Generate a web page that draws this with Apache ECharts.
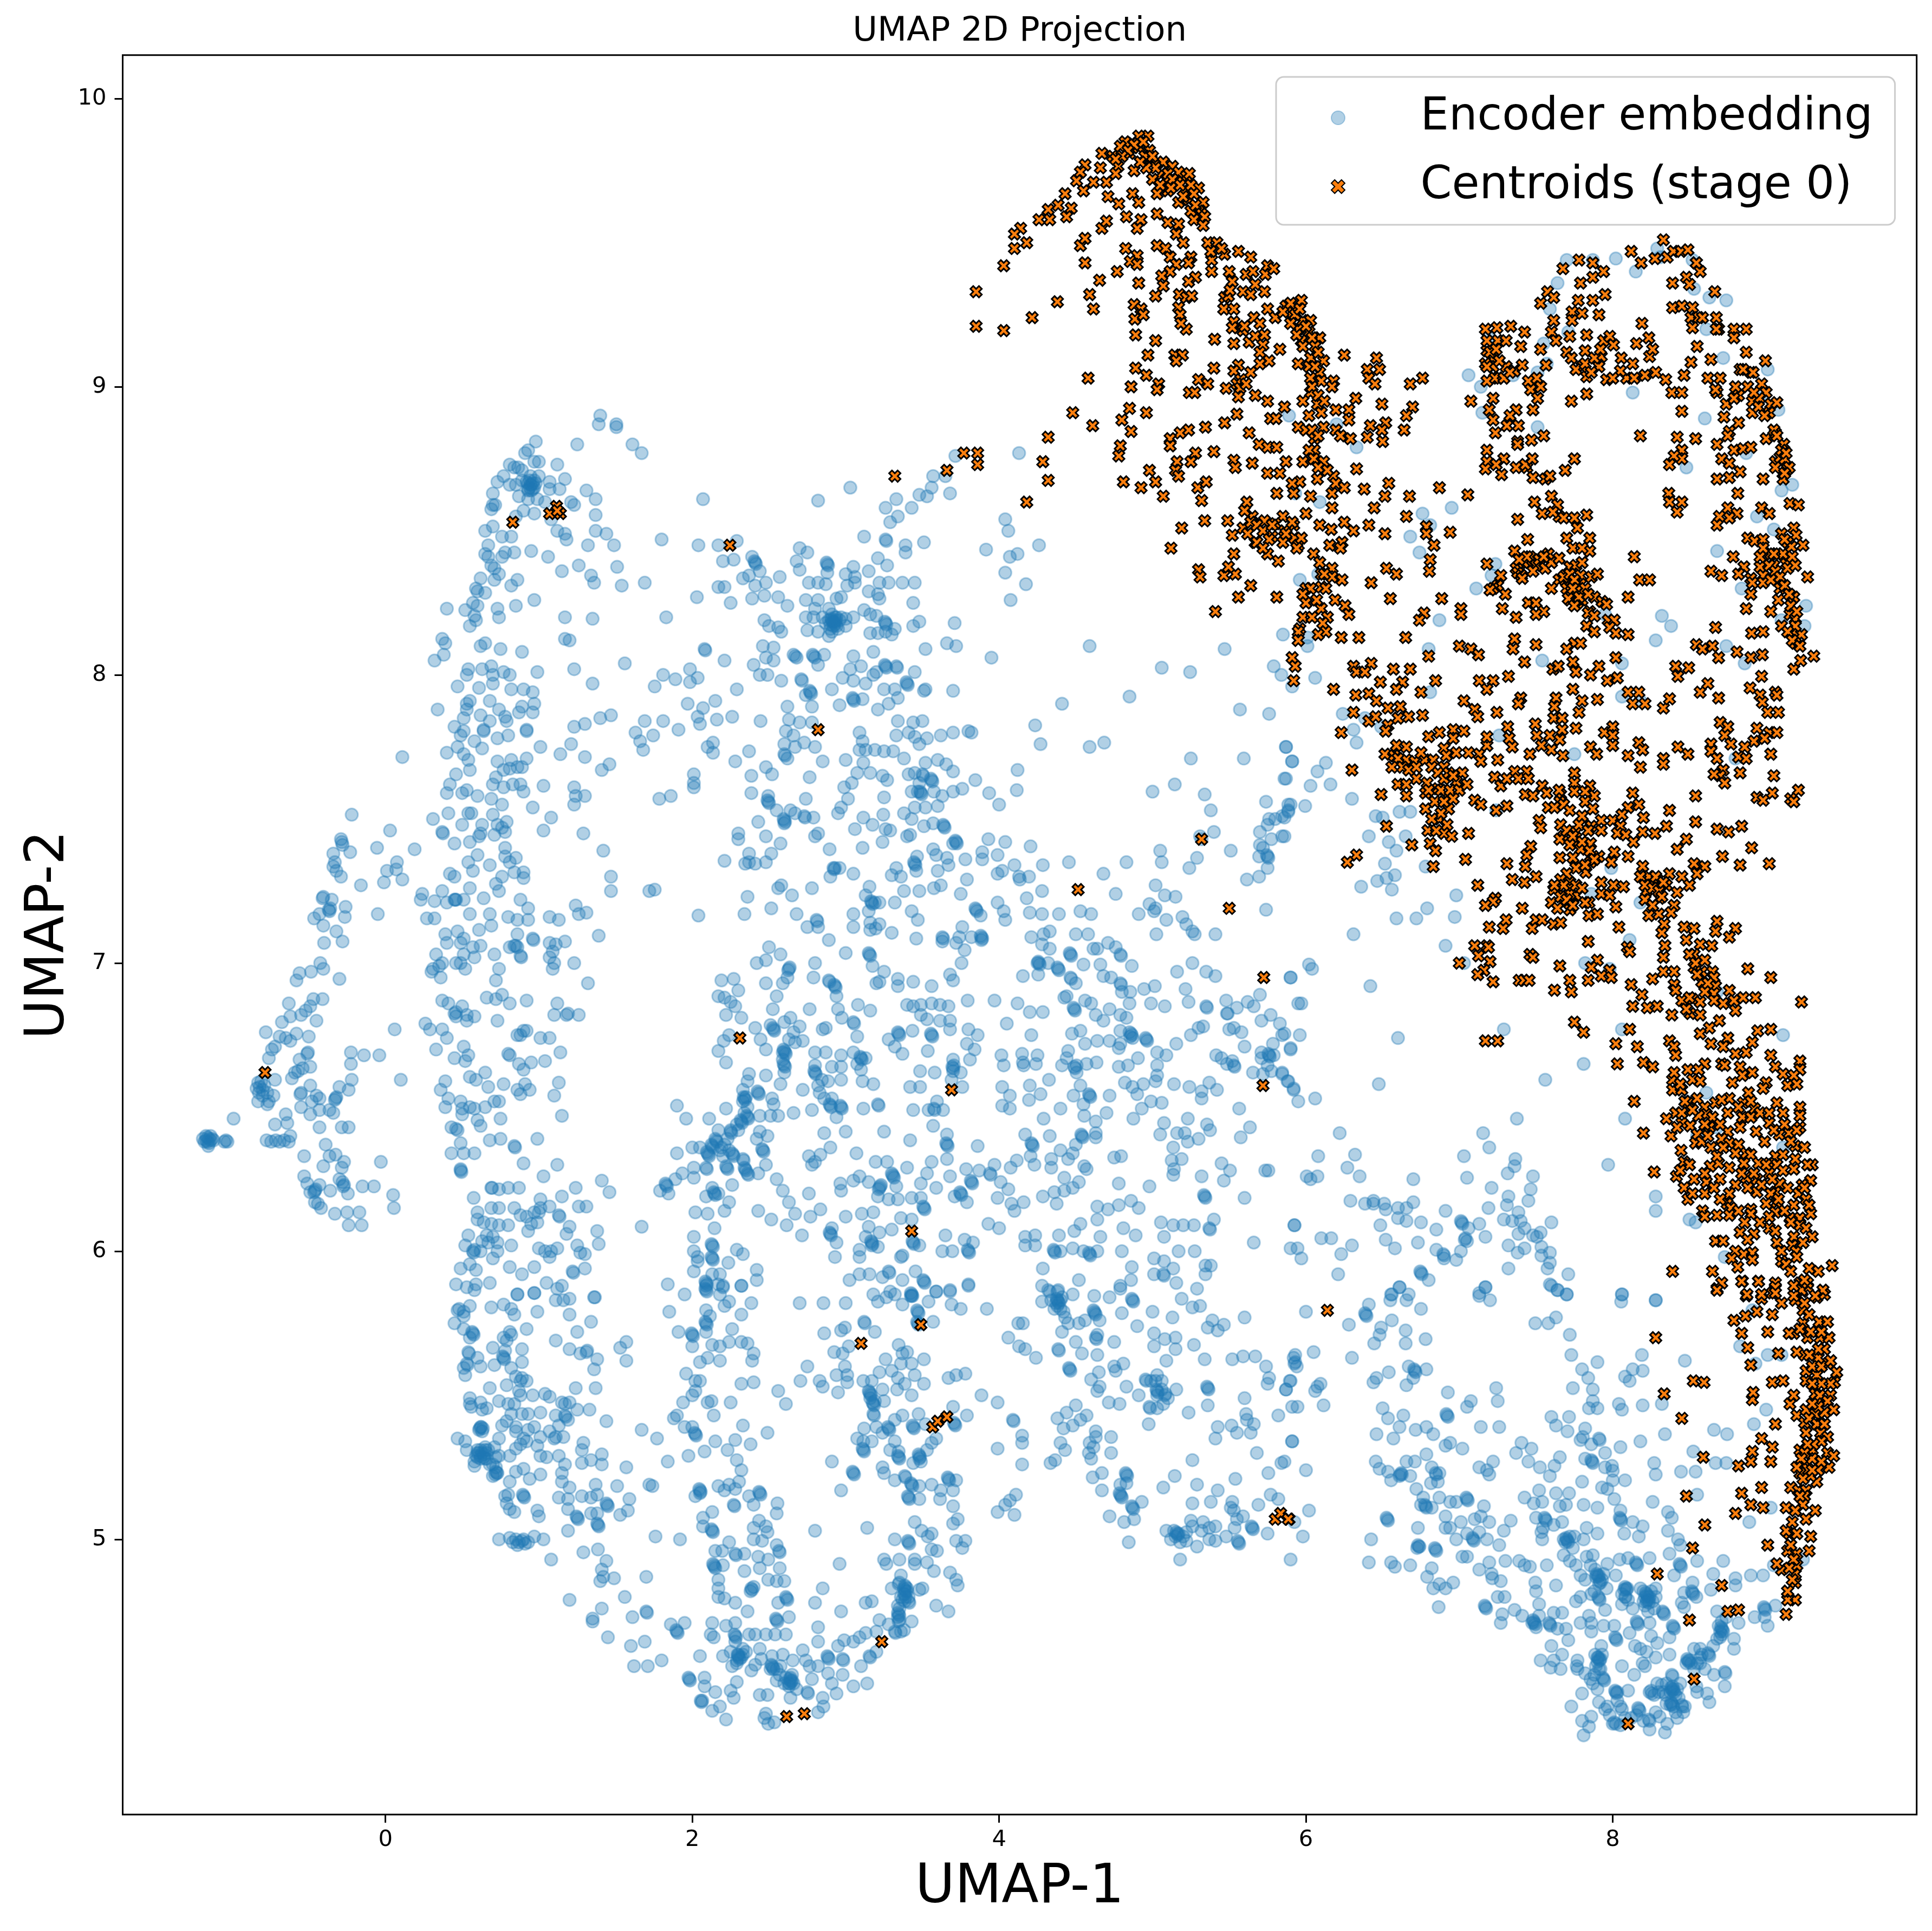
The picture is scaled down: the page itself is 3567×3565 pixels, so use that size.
<!DOCTYPE html>
<html><head><meta charset="utf-8"><style>html,body{margin:0;padding:0;background:#fff}#c{width:3567px;height:3565px}</style>
<script src="https://cdn.jsdelivr.net/npm/echarts@6/dist/echarts.min.js"></script></head><body><div id="c"></div><script>
const xTicks=[0,2,4,6,8];
const yTicks=[5,6,7,8,9,10];
const blueArmTop=[1.40,8.90,1.39,8.87,1.505,8.87,1.505,8.86,1.61,8.80,1.67,8.77,1.25,8.80,.98,8.81,.93,8.78,.91,8.77,.81,8.73,.84,8.72,.865,8.72,.97,8.74,1.0,8.74,1.12,8.73,.77,8.69,.73,8.67,.89,8.71,.945,8.69,.97,8.675,1.0,8.69,.945,8.66,.96,8.645,.89,8.675,.85,8.66,.81,8.66,1.07,8.67,1.17,8.68,1.135,8.645,1.07,8.645,1.31,8.64,1.37,8.61,1.21,8.60,1.23,8.59,.93,8.645,.93,8.61,.99,8.61,.87,8.62,1.04,8.60,.70,8.63,.70,8.59,.715,8.59,.69,8.575,.90,8.57,.97,8.56,1.08,8.54,.85,8.55,.70,8.515,.65,8.50,1.12,8.50,1.17,8.49,1.37,8.555,1.37,8.50,1.44,8.49,1.49,8.45,1.32,8.45,1.18,8.47,.76,8.48,.82,8.48,.67,8.45,.95,8.43,.84,8.425,.78,8.425,.65,8.42,.67,8.41,.76,8.41,1.06,8.41,.69,8.38,1.26,8.38,1.51,8.375,1.15,8.36,.71,8.37,.74,8.35,1.34,8.345,1.36,8.32,1.54,8.31,1.69,8.32,.62,8.335,.71,8.33,.86,8.33,.82,8.31,.59,8.30,.60,8.29,.65,8.285,.97,8.26,.57,8.25,.60,8.24,.40,8.23,.52,8.225,.85,8.24,.73,8.23,.58,8.205,.59,8.19,.55,8.17,.74,8.20,1.17,8.20,1.35,8.195,.37,8.125,.39,8.11,1.17,8.125,1.20,8.12,.62,8.10,.65,8.11,.75,8.09,.89,8.08,.32,8.05,.38,8.07,.54,8.02,.53,8.0,.63,8.02,.69,8.03,.70,8.0,.77,8.01,.81,8.0,.99,8.01,1.23,8.02,1.35,7.97,1.56,8.04,.47,7.96,.61,7.955,.70,7.97,.82,7.95,.90,7.95,.96,7.94];
const blueArmMid=[.34,7.88,.53,7.90,.55,7.91,.53,7.88,.68,7.91,.74,7.88,.89,7.89,.87,7.87,.97,7.90,.96,7.87,.62,7.86,.51,7.85,.78,7.855,.79,7.84,.68,7.84,.64,7.81,.64,7.805,.92,7.81,.92,7.805,.45,7.82,.51,7.805,.49,7.79,.80,7.79,.73,7.78,.58,7.77,.47,7.75,.63,7.745,1.01,7.75,1.21,7.76,1.23,7.82,1.30,7.83,1.40,7.85,1.47,7.86,1.14,7.725,1.30,7.715,.40,7.73,.51,7.725,.54,7.705,.11,7.715,1.63,7.80,1.66,7.77,1.68,7.74,1.69,7.84,.73,7.70,.82,7.705,.92,7.71,.77,7.67,.81,7.675,.86,7.68,.72,7.645,.89,7.68,.70,7.62,.77,7.61,.83,7.62,.88,7.62,.90,7.595,.55,7.67,.46,7.655,.42,7.62,.53,7.60,.40,7.59,.60,7.58,.50,7.59,1.03,7.615,1.23,7.61,1.24,7.58,1.30,7.58,1.23,7.55,1.41,7.67,1.46,7.69,.96,7.54,.69,7.57,.76,7.55,.54,7.52,.56,7.52,.41,7.52,.31,7.50,.70,7.515,1.08,7.505,.50,7.48,.63,7.48,.73,7.48,.76,7.47,.79,7.49,.37,7.455,.375,7.45,1.03,7.46,1.29,7.45,.62,7.45,.61,7.44,.71,7.445,.78,7.455,.45,7.415,.55,7.42,.78,7.40,.78,7.37,.60,7.375,.85,7.365,1.42,7.39,.54,7.35,.68,7.34,.81,7.35,.84,7.315,.90,7.315,.90,7.295,.57,7.32,.42,7.31,.45,7.30,.76,7.30,.72,7.275,.74,7.25,1.47,7.30,1.47,7.25,1.72,7.25,.55,7.26,.37,7.25,.24,7.24,.23,7.22,.32,7.215,.40,7.21,.45,7.22,.455,7.22,.46,7.22,.51,7.22,.64,7.225,.88,7.22,.55,7.17,.68,7.17,.69,7.13,.93,7.19,.80,7.16,.86,7.15,.93,7.15,1.07,7.16,1.13,7.15,1.24,7.20,1.26,7.17,1.31,7.175,1.39,7.095,.27,7.155,.32,7.155,.61,7.115,.39,7.10,.47,7.11,.51,7.085,.86,7.10,.96,7.085,.965,7.08,.40,7.07,.49,7.07,.57,7.055,.62,7.06,.81,7.055,.84,7.06,.85,7.06,.86,7.055,.88,7.025,.885,7.02,1.07,7.07,1.11,7.065,1.17,7.075,1.09,7.04,1.07,7.02,1.10,7.0,1.09,6.98,1.23,7.0,.33,7.03,.37,7.0,.51,7.03,.58,7.02,.46,7.0,.49,7.0,.71,7.03,.74,6.98,.31,6.98,.30,6.97,.35,6.99,.36,6.95,.52,6.98,.72,6.94,1.32,6.93];
const blueArmLow=[.37,6.87,.41,6.86,.46,6.83,.50,6.85,.66,6.88,.72,6.875,.76,6.89,.81,6.86,.92,6.87,1.12,6.86,1.10,6.82,1.18,6.82,1.19,6.825,1.26,6.82,.45,6.825,.46,6.815,.53,6.82,.58,6.815,.53,6.80,.73,6.80,.26,6.79,.29,6.77,.37,6.77,.40,6.74,.06,6.77,.90,6.765,.92,6.765,.88,6.75,.86,6.75,1.01,6.74,1.07,6.74,.33,6.70,.51,6.71,1.14,6.69,.80,6.685,.81,6.68,.45,6.67,.54,6.68,.52,6.66,.87,6.65,.95,6.655,1.04,6.66,.90,6.63,.65,6.62,.55,6.605,.59,6.595,.39,6.59,1.13,6.585,.77,6.58,.67,6.57,.36,6.56,.86,6.56,.91,6.58,.88,6.545,.94,6.56,1.10,6.54,.41,6.53,.39,6.50,.49,6.52,.55,6.50,.50,6.495,.58,6.495,.50,6.475,.60,6.455,.62,6.435,.65,6.50,.71,6.52,.74,6.52,.75,6.46,1.15,6.47,.43,6.43,.47,6.42,.46,6.425,.68,6.385,.75,6.39,.84,6.365,.845,6.36,.99,6.39,.49,6.375,.43,6.34,.51,6.34,.58,6.34,.90,6.305,1.12,6.30,.49,6.28,.495,6.275,.49,6.285,1.03,6.26,1.41,6.245,1.46,6.205,.69,6.22,.695,6.22,.74,6.215,.80,6.22,.87,6.22,1.01,6.18,1.15,6.19,1.24,6.22,.575,6.185,.60,6.135,.60,6.11,.69,6.15,.74,6.15,.84,6.15,1.07,6.155,1.01,6.15,1.13,6.125,1.135,6.12,1.26,6.155,1.31,6.155,.88,6.125,.92,6.12,.97,6.135,1.0,6.135,.95,6.095,.99,6.10,.93,6.07,.64,6.10,.69,6.095,.74,6.09,.80,6.09,1.20,6.085,1.18,6.06,1.38,6.07,1.39,6.025,1.67,6.085,.54,6.055,.66,6.055,.70,6.05,.67,6.03,.63,6.035,.73,6.03,.82,6.02,.52,6.02,.57,6.0,.575,5.995,.58,6.005,.62,6.0,.70,5.975,.73,6.0,1.0,6.01,1.04,6.0,1.08,6.0,1.12,6.01,1.07,5.98,1.25,6.02,1.30,5.99,1.27,5.995,.55,5.955,.49,5.94,.59,5.935,.81,5.945,.89,5.92,.97,5.945,1.22,5.93,1.225,5.925,1.30,5.94,.46,5.885,.53,5.875,.59,5.885,.58,5.865,.68,5.89,.86,5.85,.97,5.855,1.05,5.89,1.15,5.88,1.12,5.87,1.36,5.84];
const blueFarLeft=[-.22,7.515,.03,7.46,-.285,7.42,-.29,7.43,-.28,7.41,-.055,7.40,.19,7.395,-.23,7.385,-.34,7.38,.075,7.35,-.33,7.35,-.34,7.335,-.32,7.32,-.29,7.30,.01,7.32,.07,7.325,.11,7.29,-.01,7.28,-.16,7.27,-.405,7.23,-.41,7.225,-.35,7.22,-.26,7.195,-.365,7.18,-.37,7.185,-.36,7.19,-.43,7.17,-.465,7.155,-.405,7.13,-.265,7.16,-.05,7.17,-.32,7.11,-.40,7.07,-.28,7.075,-.425,7.0,-.405,6.98,-.485,6.97,-.56,6.965,-.58,6.94,-.30,6.945,-.41,6.875,-.47,6.875,-.49,6.85,-.52,6.835,-.55,6.82,-.63,6.86,-.62,6.815,-.45,6.80,-.675,6.795,-.78,6.76,-.58,6.755,-.50,6.745,-.69,6.745,-.62,6.73,-.65,6.74,-.72,6.71,-.74,6.70,-.505,6.69,-.51,6.685,-.76,6.67,-.56,6.665,-.49,6.64,-.57,6.625,-.54,6.635,-.59,6.62,-.61,6.60,-.72,6.595,-.225,6.69,-.14,6.68,-.04,6.68,-.225,6.65,-.22,6.595,.10,6.595,-.49,6.575,-.30,6.57,-.24,6.56,-.55,6.55,-.555,6.545,-.45,6.54,-.43,6.53,-.48,6.52,-.325,6.53,-.33,6.525,-.32,6.535,-.55,6.50,-.43,6.49,-.365,6.49,-.34,6.48,-.49,6.475,-.65,6.475,-.64,6.445,-.72,6.44,-.43,6.43,-.285,6.43,-.24,6.43,-.99,6.46,-.83,6.585,-.82,6.57,-.81,6.59,-.80,6.56,-.84,6.565,-.79,6.575,-.825,6.55,-.80,6.54,-.83,6.52,-.76,6.52,-.73,6.54,-.77,6.55,-.77,6.51,-1.19,6.39,-1.17,6.40,-1.15,6.39,-1.16,6.38,-1.14,6.385,-1.18,6.38,-1.15,6.375,-1.13,6.39,-1.17,6.385,-1.14,6.40,-1.16,6.395,-1.12,6.385,-1.05,6.38,-1.03,6.38,-1.04,6.385,-1.155,6.365,-.775,6.385,-.745,6.38,-.715,6.385,-.69,6.38,-.66,6.385,-.63,6.38,-.62,6.40,-.39,6.37,-.53,6.33,-.365,6.33,-.325,6.335,-.27,6.31,-.285,6.29,-.03,6.31,-.405,6.295,-.53,6.26,-.51,6.235,-.30,6.25,-.27,6.23,-.28,6.24,-.275,6.225,-.43,6.23,-.46,6.21,-.465,6.205,-.455,6.215,-.49,6.205,-.36,6.21,-.245,6.20,-.15,6.225,-.075,6.225,.05,6.195,.055,6.15,-.46,6.17,-.44,6.165,-.42,6.15,-.33,6.13,-.25,6.135,-.17,6.135,-.24,6.09,-.155,6.09];
const blueArmBottom=[.69,5.805,.77,5.815,.82,5.80,.84,5.78,.99,5.79,1.20,5.78,1.11,5.83,1.16,5.83,1.20,5.835,1.365,5.84,.86,5.85,.97,5.855,.47,5.795,.51,5.79,.55,5.81,.48,5.80,.51,5.775,.45,5.75,.51,5.73,.57,5.715,.575,5.71,.565,5.72,.55,5.70,.92,5.73,.81,5.72,.77,5.70,.82,5.71,.79,5.69,1.25,5.72,1.34,5.755,1.11,5.69,.70,5.665,.89,5.66,.54,5.65,.545,5.645,.78,5.655,1.20,5.66,1.27,5.645,1.31,5.65,1.315,5.655,1.53,5.665,1.57,5.685,1.57,5.62,1.38,5.625,.60,5.63,.53,5.61,.535,5.605,.51,5.595,.62,5.60,.71,5.605,.77,5.63,.775,5.625,.765,5.635,.89,5.615,.82,5.595,1.36,5.59,.52,5.57,.85,5.565,.89,5.56,.92,5.55,.88,5.55,.68,5.525,.79,5.535,1.24,5.525,1.37,5.525,.87,5.515,.88,5.50,.96,5.50,1.04,5.505,1.07,5.495,.55,5.49,.55,5.47,.62,5.475,.56,5.46,.63,5.45,.66,5.455,.74,5.48,.80,5.47,.84,5.47,.82,5.435,1.15,5.475,1.20,5.475,1.17,5.47,1.01,5.44,1.25,5.45,1.33,5.45,.89,5.435,.93,5.435,1.11,5.43,1.17,5.43,1.175,5.425,.79,5.41,.76,5.395,1.44,5.41,.85,5.39,.85,5.375,.97,5.39,.93,5.38,1.13,5.395,1.19,5.415,.62,5.39,.61,5.38,.63,5.375,.625,5.39,.615,5.385,.635,5.385,1.67,5.38,1.07,5.375,1.11,5.355,1.16,5.355,1.10,5.35,.74,5.35,1.01,5.355,.90,5.35,.92,5.34,.88,5.33,.47,5.35,.52,5.34,1.29,5.335,.53,5.31,.99,5.325,.85,5.315,.71,5.32,.65,5.32,.62,5.31,.60,5.30,.64,5.295,.66,5.30,.62,5.28,.60,5.285,.65,5.28,.67,5.31,.58,5.27,.58,5.255,.68,5.26,.72,5.285,.74,5.29,.81,5.29,1.01,5.29,1.05,5.285,1.13,5.29,1.28,5.31,1.17,5.26,1.28,5.265,1.34,5.275,1.41,5.295,1.41,5.26,1.57,5.25,.72,5.235,.725,5.23,.715,5.225,.73,5.23,.70,5.22,.85,5.235,.90,5.245,1.01,5.225,.94,5.21,1.15,5.23,1.15,5.20,.81,5.20,1.20,5.18,1.37,5.19,1.51,5.185,1.72,5.19,.78,5.15,.80,5.155,.90,5.15,.905,5.145,.895,5.155,1.13,5.145,1.19,5.14,1.28,5.15,1.34,5.145,1.38,5.155,1.59,5.14,.79,5.125,.81,5.105,.84,5.095,.99,5.10,1.0,5.08,1.19,5.105,1.25,5.075,1.255,5.07,1.245,5.08,1.34,5.09,1.38,5.09,1.445,5.12,1.45,5.115,1.44,5.125,1.58,5.10,1.53,5.085,1.385,5.05,1.39,5.045,1.38,5.055,1.19,5.03,.74,5.0,.83,4.99,.85,5.0,.87,4.99,.89,4.995,.91,4.985,.93,4.99,.86,4.98,.90,5.0,.81,5.005,1.03,5.0,.97,5.01,1.29,4.955,1.385,4.965,1.08,4.93,1.44,4.925,1.41,4.895,1.42,4.87,1.40,4.855,1.49,4.865,1.70,4.87,1.56,4.80,1.20,4.79,1.41,4.76,1.35,4.725,1.35,4.715,1.61,4.73,1.70,4.75,1.705,4.745,1.45,4.66,1.60,4.63,1.69,4.645,1.62,4.56,1.71,4.56];
const blueNorthCentre=[3.03,8.65,2.07,8.61,2.82,8.605,1.80,8.47,2.04,8.45,2.17,8.45,2.29,8.465,2.20,8.395,2.27,8.40,2.39,8.41,2.41,8.39,2.415,8.385,2.405,8.395,2.44,8.36,2.37,8.345,2.33,8.335,2.41,8.31,2.48,8.32,2.57,8.34,2.17,8.305,2.21,8.305,2.03,8.27,2.25,8.25,2.39,8.265,2.47,8.275,2.56,8.27,2.62,8.24,1.83,8.20,2.47,8.19,2.50,8.17,2.56,8.165,2.58,8.15,2.08,8.09,2.085,8.085,2.46,8.10,2.53,8.095,2.70,8.44,2.75,8.425,2.68,8.395,2.70,8.365,2.88,8.385,2.885,8.38,2.875,8.39,2.88,8.355,2.76,8.32,2.82,8.32,2.87,8.315,3.05,8.375,3.0,8.35,3.06,8.34,3.15,8.36,3.21,8.405,3.27,8.38,3.12,8.48,3.26,8.47,3.265,8.465,3.39,8.45,3.39,8.425,3.51,8.46,3.22,8.32,3.28,8.32,3.37,8.32,3.45,8.32,3.21,8.28,3.22,8.265,3.44,8.25,3.15,8.29,3.06,8.32,3.01,8.31,2.97,8.27,2.94,8.265,2.74,8.26,2.82,8.26,2.80,8.23,2.74,8.20,2.79,8.20,2.85,8.20,2.89,8.23,2.91,8.21,2.94,8.20,2.93,8.185,2.925,8.18,2.93,8.175,2.935,8.19,2.92,8.185,2.97,8.20,3.0,8.195,3.05,8.20,2.87,8.18,2.90,8.16,2.95,8.16,3.0,8.17,3.12,8.225,3.16,8.21,3.20,8.205,3.26,8.18,3.265,8.175,3.255,8.185,3.32,8.16,3.26,8.15,3.30,8.14,3.21,8.145,3.16,8.145,3.44,8.17,3.48,8.185,2.75,8.155,2.82,8.15,2.89,8.135,3.71,8.18,3.66,8.11,3.72,8.10,3.52,8.09,4.59,8.10,5.47,8.09,5.85,8.14,3.715,8.76,3.57,8.69,3.65,8.69,3.56,8.65,3.53,8.62,3.48,8.625,3.68,8.63,3.33,8.61,3.26,8.58,3.43,8.58,3.34,8.55,3.29,8.53,4.13,8.77,4.04,8.54,4.06,8.50,3.915,8.435,4.26,8.45,4.12,8.42,4.07,8.41,4.04,8.355,4.175,8.315,4.075,8.26,2.21,8.05,2.40,8.035,2.48,8.06,2.53,8.05,2.67,8.065,2.68,8.06,2.66,8.07,2.79,8.065,2.80,8.06,2.785,8.07,2.82,8.035,2.86,8.07,3.05,8.065,3.18,8.08,1.81,8.0,1.89,7.985,1.985,8.02,2.035,7.99,1.985,7.975,1.755,7.96,2.29,7.95,2.44,8.0,2.49,8.0,2.58,7.98,2.71,7.985,2.715,7.98,2.77,7.94,2.775,7.935,2.765,7.945,2.74,7.93,2.91,7.95,2.98,7.99,3.03,8.02,3.10,8.03,3.05,7.98,3.13,7.97,3.05,7.915,3.055,7.91,3.045,7.92,3.11,7.916,3.18,8.0,3.20,8.01,3.26,8.03,3.265,8.025,3.255,8.035,3.33,8.03,3.335,8.025,3.45,8.01,3.25,7.95,3.32,7.95,3.34,7.92,3.40,7.97,3.405,7.965,3.395,7.975,3.52,7.95,3.51,7.945,3.70,7.945,3.95,8.06,3.28,7.90,3.21,7.88,2.96,7.895,2.78,7.89,2.62,7.89,2.15,7.91,2.07,7.885,1.97,7.90,2.035,7.855,2.05,7.83,2.16,7.845,2.26,7.855,1.81,7.84,1.91,7.81,1.745,7.79,2.445,7.84,2.63,7.845,2.70,7.835,2.78,7.835,2.61,7.805,2.66,7.79,2.60,7.76,2.67,7.75,2.73,7.765,2.80,7.75,2.85,7.70,2.60,7.725,2.605,7.72,2.62,7.71,2.135,7.765,2.10,7.75,2.135,7.73,2.37,7.735,2.28,7.70];
const blueCentreA=[3.34,7.84,3.44,7.835,3.50,7.84,3.41,7.80,3.33,7.79,3.45,7.785,3.48,7.76,3.53,7.78,3.62,7.79,3.70,7.80,3.80,7.805,3.82,7.80,3.09,7.80,3.11,7.77,3.09,7.74,3.13,7.74,3.19,7.74,3.25,7.735,3.31,7.735,3.38,7.71,3.0,7.705,3.115,7.695,3.075,7.66,3.16,7.66,3.24,7.65,3.27,7.635,3.04,7.625,2.99,7.61,3.25,7.575,3.015,7.57,2.97,7.54,2.95,7.52,3.115,7.505,3.245,7.515,3.175,7.48,3.06,7.465,3.26,7.465,3.29,7.46,3.24,7.42,3.11,7.40,2.895,7.395,3.60,7.705,3.655,7.69,3.52,7.695,3.70,7.665,3.45,7.66,3.41,7.655,3.50,7.655,3.505,7.65,3.56,7.635,3.565,7.63,3.555,7.64,3.48,7.625,3.47,7.595,3.49,7.59,3.495,7.585,3.485,7.595,3.43,7.595,3.575,7.595,3.63,7.58,3.70,7.595,3.76,7.605,3.845,7.635,3.935,7.59,4.115,7.60,4.0,7.55,4.12,7.67,3.60,7.545,3.52,7.54,3.45,7.54,3.38,7.52,3.43,7.50,3.57,7.485,3.51,7.475,3.64,7.475,3.645,7.47,3.635,7.48,3.42,7.445,3.40,7.44,3.72,7.42,3.725,7.415,3.715,7.425,3.70,7.415,3.59,7.375,3.57,7.395,3.66,7.365,3.45,7.345,3.455,7.34,3.445,7.35,3.465,7.37,3.78,7.36,3.46,7.32,3.60,7.32,3.67,7.34,3.33,7.33,3.30,7.305,3.36,7.30,3.79,7.29,3.89,7.385,3.89,7.36,3.99,7.375,3.99,7.31,3.93,7.43,4.04,7.42,4.02,7.32,4.10,7.34,4.13,7.30,4.135,7.29,4.205,7.405,4.285,7.34,4.195,7.30,4.455,7.35,4.68,7.31,4.83,7.35,4.28,7.25,4.18,7.225,5.25,7.71,5.145,7.62,5.0,7.595,5.34,7.585,5.38,7.53,5.595,7.71,5.87,7.75,5.91,7.70,5.86,7.64,5.74,7.56,5.90,7.55,5.885,7.53,5.80,7.50,5.76,7.50,5.845,7.51,5.75,7.48,5.70,7.455,5.775,7.43,5.845,7.44,5.70,7.41,5.72,7.40,5.75,7.37,5.755,7.365,5.745,7.375,5.695,7.37,5.75,7.33,5.695,7.30,5.615,7.29,5.74,7.185,5.31,7.44,5.32,7.43,5.40,7.455,5.51,7.39,5.29,7.365,5.24,7.33,5.05,7.39,5.06,7.35,5.02,7.27,5.08,7.235,5.15,7.23,4.76,7.24,4.98,7.205,5.01,7.18,5.02,7.19,4.91,7.17,5.09,7.15,5.195,7.16,5.22,7.135,5.26,7.11,5.275,7.10,5.41,7.10,5.025,7.10,4.85,7.925,4.41,7.90,4.235,7.825,4.27,7.76,4.59,7.75,4.685,7.765,5.06,8.025,5.245,8.01,5.57,7.88,5.76,7.865,5.79,8.03,5.84,8.0,4.53,7.18,4.60,7.17,4.39,7.17,4.28,7.17,4.20,7.175,4.04,7.15,4.03,7.18,3.99,7.21,3.88,7.165,3.85,7.185,3.855,7.18,3.845,7.19,3.75,7.24,3.62,7.27,3.575,7.26,3.48,7.25,3.38,7.25,3.32,7.21,3.155,7.265,3.13,7.235,3.17,7.21,3.175,7.205,3.165,7.215,3.19,7.21,3.22,7.21,3.15,7.18,3.05,7.17,3.43,7.18,3.47,7.15,3.16,7.14,3.22,7.135,3.195,7.12,3.16,7.115,3.05,7.125,3.30,7.105,2.81,7.15,2.815,7.145,2.82,7.125,2.75,7.125,2.68,7.17,2.515,7.19,2.34,7.17,2.04,7.165,2.36,7.23,2.65,7.235,2.56,7.26,2.58,7.27,2.78,7.26,1.755,7.255,2.90,7.30,2.92,7.33,2.925,7.325,2.93,7.33,2.96,7.33,3.05,7.31,2.21,7.355,2.37,7.38,2.345,7.345,2.37,7.35,2.41,7.345,2.48,7.35,2.515,7.38,2.575,7.415,2.48,7.44,2.30,7.45,2.30,7.43,2.80,7.44,2.82,7.45,2.43,7.49,2.495,7.56,2.50,7.555,2.49,7.565,2.55,7.53,2.64,7.53,2.60,7.495,2.605,7.49,2.595,7.50,2.60,7.485,2.67,7.52,2.73,7.51,2.735,7.505,2.79,7.505,2.74,7.57,2.385,7.59,2.495,7.58,2.765,7.645,2.48,7.68,2.52,7.655,2.385,7.65,2.01,7.655,2.01,7.625,2.01,7.61,1.86,7.58,1.785,7.57];
const blueCentreB=[2.50,7.055,2.575,7.03,2.48,7.01,2.42,7.0,2.80,7.0,2.63,6.98,2.625,6.975,2.635,6.985,2.62,6.95,2.59,6.93,2.79,6.95,2.48,6.93,2.55,6.885,2.525,6.84,2.765,6.84,2.19,6.94,2.27,6.945,2.30,6.905,2.17,6.885,2.21,6.88,2.25,6.865,2.28,6.85,2.22,6.82,2.32,6.81,2.89,6.94,2.895,6.935,2.93,6.92,2.935,6.915,2.925,6.925,2.94,6.885,2.95,6.84,2.975,6.81,3.05,6.795,3.055,6.79,3.08,6.855,3.16,6.835,2.87,6.775,2.85,6.77,3.155,7.03,3.16,7.025,3.15,7.035,3.175,6.99,3.25,6.97,3.34,6.945,3.34,6.92,3.20,6.93,3.22,6.935,3.44,6.935,3.56,6.92,3.68,6.96,3.70,6.94,3.755,7.0,3.46,7.085,3.63,7.09,3.635,7.085,3.63,7.075,3.72,7.07,3.74,7.09,3.82,7.09,3.885,7.09,3.89,7.085,3.88,7.095,3.885,7.08,3.76,7.125,3.775,7.045,2.89,7.08,3.0,7.035,3.795,6.87,3.97,6.87,4.12,6.86,3.40,6.855,3.44,6.85,3.49,6.855,3.56,6.86,3.615,6.855,3.67,6.85,3.49,6.82,3.53,6.805,3.615,6.80,3.68,6.80,3.68,6.77,3.435,6.765,3.345,6.755,3.35,6.75,3.34,6.76,3.28,6.735,3.32,6.71,3.37,6.685,3.56,6.75,3.565,6.745,3.555,6.755,3.535,6.695,3.80,6.77,3.86,6.75,3.79,6.72,3.84,6.70,3.81,6.665,3.70,6.665,3.705,6.645,3.695,6.64,3.70,6.635,3.70,6.625,3.75,6.62,3.485,6.625,3.58,6.62,3.42,6.57,3.485,6.57,3.76,6.57,3.69,6.595,3.595,6.52,3.44,6.49,3.54,6.49,3.575,6.495,3.58,6.49,3.635,6.49,4.05,6.79,4.21,6.75,4.20,6.83,4.285,6.83,4.465,7.03,4.47,7.025,4.46,7.035,4.26,7.0,4.265,6.995,4.255,7.005,4.25,7.0,4.32,7.0,4.385,6.98,4.39,6.975,4.38,6.985,4.155,6.955,4.255,6.96,4.465,6.95,4.47,6.945,4.55,6.995,4.50,6.93,4.21,7.09,4.29,7.10,4.33,7.11,4.28,7.065,4.33,7.05,4.50,7.10,4.58,7.10,4.615,7.05,4.64,7.05,4.71,7.07,4.76,7.055,4.79,7.03,4.795,7.025,4.66,6.995,4.865,6.99,4.68,6.955,4.73,6.95,4.79,6.93,4.795,6.925,4.80,6.90,4.855,6.90,4.945,6.91,5.015,6.92,5.16,6.97,5.26,7.0,5.35,6.97,5.41,6.955,4.44,6.885,4.425,6.88,4.49,6.84,4.495,6.835,4.485,6.845,4.56,6.87,4.60,6.86,4.85,6.86,4.72,6.84,4.79,6.82,4.83,6.81,4.63,6.82,4.68,6.80,4.99,6.86,5.08,6.85,5.215,6.91,5.235,6.865,5.35,6.85,5.355,6.845,5.48,6.87,5.55,6.845,5.49,6.825,5.62,6.865,5.66,6.85,5.70,6.89,5.90,6.95,5.95,6.86,4.86,6.755,4.865,6.75,4.855,6.745,4.85,6.76,4.87,6.74,4.79,6.765,4.96,6.735,4.965,6.73,4.955,6.74,4.78,6.705,4.79,6.72,4.72,6.73,4.64,6.73,4.56,6.72,4.475,6.755,4.53,6.765,4.45,6.695,4.505,6.645,4.44,6.67,4.49,6.64,4.495,6.635,4.57,6.65,4.41,6.645,4.635,6.655,4.78,6.64,4.84,6.645,4.905,6.67,5.03,6.69,5.09,6.68,5.03,6.645,5.155,6.72,5.25,6.75,5.30,6.775,5.33,6.78,5.03,6.61,5.02,6.59,5.14,6.58,5.24,6.57,5.32,6.555,5.32,6.53,5.37,6.585,5.42,6.56,4.82,6.585,4.87,6.57,4.94,6.58,4.90,6.545,4.93,6.495,4.99,6.52,5.06,6.515,5.565,6.495,4.875,6.46,4.72,6.54,4.70,6.48,4.505,6.62,4.53,6.575,4.59,6.54,4.595,6.535,4.585,6.545,4.485,6.54,4.55,6.51,4.555,6.47,4.63,6.45,4.40,6.495,4.29,6.46,4.02,6.57,4.07,6.54,4.20,6.575,4.325,6.595,4.195,6.525,4.27,6.545,4.02,6.505,4.07,6.495,4.015,6.68,4.03,6.645,4.15,6.685,4.155,6.655,4.16,6.645,4.25,6.68,4.24,6.65];
const blueCentreC=[4.54,6.40,4.545,6.395,4.535,6.405,4.63,6.41,4.63,6.395,4.50,6.37,4.48,6.34,4.40,6.35,4.45,6.32,4.555,6.295,4.57,6.285,4.34,6.32,4.34,6.29,4.17,6.405,4.215,6.37,4.22,6.365,4.21,6.375,4.205,6.33,4.23,6.30,4.115,6.315,4.075,6.29,4.33,6.40,4.425,6.255,4.52,6.24,4.98,6.225,4.78,6.235,4.425,6.21,4.48,6.22,4.36,6.205,4.285,6.19,4.375,6.165,4.75,6.325,4.795,6.33,5.125,6.315,5.19,6.32,5.45,6.305,5.505,6.28,5.465,6.245,5.32,6.26,5.135,6.265,5.14,6.285,5.735,6.28,5.755,6.28,5.60,6.185,5.34,6.19,5.345,6.185,5.335,6.195,5.075,6.445,5.05,6.405,5.16,6.41,5.21,6.41,5.23,6.46,5.23,6.38,5.355,6.44,5.375,6.42,5.30,6.39,5.135,6.36,5.635,6.43,5.575,6.395,5.415,6.68,5.45,6.67,5.485,6.65,5.52,6.66,5.53,6.645,5.535,6.64,5.485,6.825,5.53,6.775,5.58,6.76,5.50,6.77,5.60,6.71,5.71,6.80,5.77,6.82,5.83,6.79,5.845,6.75,5.785,6.72,5.90,6.70,5.71,6.69,5.76,6.68,5.765,6.675,5.755,6.685,5.79,6.68,5.71,6.67,5.75,6.645,5.775,6.625,5.72,6.615,5.655,6.62,5.845,6.62,5.885,6.59,5.92,6.56,1.90,6.505,1.96,6.46,2.11,6.46,2.22,6.495,2.34,6.53,2.345,6.525,2.335,6.535,2.33,6.52,2.35,6.535,2.33,6.56,2.37,6.615,2.36,6.59,2.43,6.55,2.435,6.545,2.425,6.555,2.48,6.61,2.575,6.58,2.52,6.53,2.53,6.51,2.51,6.47,2.44,6.47,2.56,6.47,2.66,6.48,2.72,6.56,2.78,6.49,2.36,6.465,2.365,6.46,2.355,6.47,2.32,6.45,2.325,6.445,2.315,6.455,2.29,6.44,2.25,6.415,2.255,6.41,2.17,6.42,2.155,6.385,2.16,6.38,2.15,6.39,2.13,6.365,2.135,6.36,2.125,6.37,2.10,6.34,2.105,6.335,2.095,6.345,2.11,6.33,2.05,6.36,2.0,6.36,1.90,6.34,2.01,6.29,2.01,6.255,2.09,6.29,2.095,6.285,1.935,6.27,1.89,6.25,1.83,6.23,1.835,6.225,1.825,6.235,1.79,6.21,1.845,6.20,2.265,6.335,2.27,6.33,2.26,6.34,2.33,6.32,2.335,6.315,2.225,6.29,2.22,6.295,2.23,6.285,2.345,6.285,2.35,6.28,2.34,6.29,2.36,6.27,2.365,6.265,2.43,6.27,2.48,6.30,2.46,6.35,2.465,6.345,2.455,6.355,2.42,6.39,2.49,6.40,2.44,6.415,2.55,6.25,2.59,6.21,2.26,6.23,2.13,6.22,2.145,6.20,2.15,6.195,2.14,6.205,2.17,6.20,2.09,6.19,2.24,6.17,2.21,6.14,2.10,6.13,2.02,6.135,2.145,6.08,2.01,6.05,2.43,6.14,2.515,6.11,2.615,6.09,2.67,6.13,2.63,6.17,2.76,6.20,2.77,6.12,2.835,6.145,2.715,6.055,2.51,6.785,2.53,6.77,2.535,6.765,2.525,6.775,2.64,6.81,2.70,6.78,2.66,6.76,2.60,6.795,2.41,6.775,2.205,6.73,2.24,6.75,2.17,6.695,2.22,6.655,2.445,6.735,2.48,6.70,2.63,6.735,2.67,6.725,2.72,6.73,2.60,6.695,2.605,6.69,2.595,6.70,2.61,6.685,2.59,6.69,2.59,6.665,2.60,6.645,2.605,6.64,2.595,6.65,2.60,6.62,2.80,6.69,2.87,6.69,2.97,6.68,3.075,6.745,3.05,6.69,3.10,6.67,3.105,6.665,3.095,6.675,3.13,6.67,3.10,6.63,3.11,6.59,3.18,6.58,3.075,6.65,2.80,6.645,2.80,6.62,2.805,6.615,2.795,6.625,2.91,6.64,2.97,6.64,2.845,6.595,2.885,6.59,2.97,6.595,2.82,6.575,2.83,6.55,2.86,6.53,2.90,6.505,2.905,6.50,2.895,6.51,2.97,6.50,2.975,6.495,2.965,6.505,2.91,6.53,2.94,6.465,3.115,6.495,3.21,6.51,3.215,6.505,2.86,6.41,3.0,6.415,3.25,6.415,3.42,6.385,3.57,6.435,3.66,6.405,3.66,6.37,3.665,6.365,3.655,6.375,3.86,6.365,3.66,6.32];
const blueCentreD=[2.90,6.36,2.835,6.335,2.76,6.33,2.80,6.31,2.78,6.30,3.07,6.34,3.195,6.31,3.27,6.31,3.40,6.29,3.56,6.31,3.53,6.27,3.785,6.285,3.87,6.28,3.94,6.27,3.945,6.265,3.97,6.30,3.82,6.24,3.825,6.235,3.815,6.245,3.75,6.20,3.755,6.195,3.745,6.205,3.71,6.19,3.79,6.17,4.01,6.24,4.06,6.215,3.99,6.185,4.08,6.165,4.16,6.17,4.10,6.14,3.68,6.26,3.59,6.22,3.49,6.235,3.305,6.265,3.31,6.26,3.30,6.27,3.315,6.255,3.33,6.225,3.225,6.225,3.22,6.22,3.23,6.23,3.215,6.215,3.21,6.19,3.28,6.18,3.34,6.18,2.965,6.235,2.97,6.21,3.05,6.245,3.09,6.26,3.15,6.24,3.43,6.185,3.51,6.15,3.515,6.145,3.505,6.155,3.49,6.185,3.36,6.115,3.43,6.11,3.0,6.12,3.105,6.13,3.18,6.135,3.15,6.085,3.22,6.065,3.30,6.075,2.91,6.08,2.90,6.06,2.905,6.055,2.895,6.065,2.94,6.03,2.93,5.98,3.09,6.005,3.09,5.98,3.17,6.03,3.175,6.025,3.165,6.035,3.17,6.02,3.21,6.015,3.13,6.05,3.37,5.985,3.44,6.03,3.445,6.025,3.435,6.035,3.48,6.02,3.36,5.98,3.65,6.055,3.63,6.0,3.695,6.0,3.775,6.04,3.83,6.03,3.80,6.0,3.805,5.995,3.795,6.005,3.93,6.095,4.0,6.08,4.17,6.05,4.235,6.055,4.17,6.02,4.235,6.02,4.39,6.055,4.49,6.07,4.53,6.095,4.64,6.155,4.71,6.145,4.78,6.16,4.86,6.175,4.91,6.15,4.64,6.11,4.66,6.05,4.81,6.08,4.89,6.055,5.075,6.05,5.055,6.10,5.135,6.09,5.20,6.09,5.27,6.09,5.37,6.08,5.375,6.075,5.40,6.11,5.66,6.03,5.925,6.09,4.36,6.0,4.365,5.995,4.355,6.005,4.40,6.0,4.48,6.01,4.55,6.0,4.59,5.99,4.595,5.985,4.585,5.995,4.64,6.0,4.80,6.0,4.865,5.945,5.01,5.975,5.075,5.965,5.01,5.92,5.07,5.92,5.075,5.915,5.135,5.94,5.17,6.0,5.275,6.0,5.345,5.95,5.38,5.95,5.345,5.92,5.155,5.89,5.29,5.87,4.86,5.90,4.79,5.88,5.90,6.01,4.285,5.94,4.52,5.90,4.28,5.88,4.32,5.865,4.385,5.865,2.01,6.0,2.035,5.98,2.035,5.965,2.13,6.02,2.135,6.015,2.125,6.025,2.13,5.975,2.135,5.97,2.125,5.98,2.235,5.96,2.29,6.005,2.33,5.99,2.01,5.93,2.13,5.92,2.18,5.92,2.09,5.89,2.095,5.885,2.085,5.895,2.09,5.88,2.17,5.885,2.2,5.88,2.32,5.88,2.42,5.935,2.42,5.90,1.84,5.885,1.95,5.85,2.18,5.85,3.025,5.90,3.09,5.92,3.155,5.92,3.24,5.91,3.28,5.93,3.285,5.925,3.37,5.90,3.455,5.93,3.51,5.895,3.515,5.89,3.505,5.90,3.59,5.86,3.68,5.86,3.80,5.885,3.18,5.85,3.29,5.86,3.43,5.85,3.435,5.845,3.425,5.855,1.85,5.79,2.09,5.865,2.095,5.86,2.085,5.87,2.20,5.875,2.32,5.88,2.24,5.825,2.21,5.81,2.385,5.82,2.32,5.78,2.09,5.795,2.115,5.775,2.09,5.75,2.095,5.745,2.085,5.755,2.09,5.72,1.91,5.72,2.0,5.71,2.005,5.705,1.995,5.715,2.0,5.67,2.13,5.675,2.18,5.67,2.26,5.73,2.24,5.685,2.32,5.685,2.36,5.68,2.40,5.645,2.39,5.62,2.10,5.63,2.18,5.62,2.05,5.615,1.96,5.575,2.02,5.55,2.05,5.55,2.32,5.54,2.40,5.545,2.0,5.50,2.02,5.515,1.94,5.475,2.10,5.475,2.125,5.48,2.25,5.475,2.14,5.43,1.90,5.43,1.88,5.42,1.95,5.39,2.0,5.39,2.02,5.365,2.025,5.36,2.015,5.37,1.77,5.35,2.15,5.34,2.28,5.345,2.33,5.395,2.49,5.37,2.38,5.33,2.23,5.31,2.08,5.305,1.975,5.29,1.84,5.27,2.29,5.275,2.32,5.24,1.74,5.185,2.305,5.20,2.24,5.19,2.17,5.185,2.21,5.17,2.28,5.175,2.27,5.12,2.275,5.115,2.05,5.17,2.055,5.165,2.045,5.175,2.05,5.16,2.02,5.15,2.37,5.15,2.44,5.16,2.445,5.155,2.435,5.165,2.40,5.12,2.555,5.125,2.13,5.095,2.07,5.075,2.07,5.045,2.13,5.03,2.135,5.025,2.125,5.035,2.55,5.09,2.435,5.065,2.40,5.04,2.48,5.045,2.49,5.025,2.455,4.995,2.40,5.0,2.55,4.98,2.565,4.96,2.57,4.955,1.92,5.0,1.76,5.01,2.15,4.96,2.195,4.96,2.28,4.95,2.285,4.945,2.34,4.95,2.24,4.99,2.14,4.91,2.145,4.905,2.135,4.915,2.15,4.90,2.2,4.91,2.43,4.94,2.495,4.93,2.44,4.90,2.57,4.90,2.34,4.89,2.17,4.86,2.17,4.83,2.17,4.80,2.21,4.795,2.28,4.78,2.495,4.86,2.55,4.855,2.6,4.855,2.385,4.83,2.39,4.825,2.40,4.835,2.38,4.82,2.56,4.78,2.615,4.795,2.62,4.79,2.61,4.80,2.36,4.75];
const blueSouthLobe=[2.63,4.73,2.55,4.72,2.555,4.715,2.545,4.725,2.13,4.71,2.22,4.70,2.28,4.71,2.12,4.67,2.14,4.66,2.28,4.665,2.285,4.66,2.275,4.67,2.28,4.645,2.37,4.67,2.41,4.67,2.48,4.67,2.54,4.67,2.61,4.67,1.90,4.68,1.905,4.675,1.895,4.685,1.86,4.705,1.95,4.71,2.05,4.595,1.80,4.58,2.20,4.595,2.25,4.61,2.30,4.595,2.305,4.59,2.295,4.60,2.31,4.585,2.29,4.58,2.30,4.60,2.33,4.62,2.26,4.56,2.44,4.62,2.45,4.585,2.385,4.545,2.41,4.565,2.52,4.595,2.52,4.56,2.525,4.555,2.515,4.565,2.53,4.55,2.51,4.55,2.59,4.60,2.655,4.58,2.575,4.56,2.72,4.615,2.64,4.51,2.645,4.505,2.635,4.515,2.65,4.51,2.63,4.50,2.64,4.52,2.635,4.50,2.60,4.50,2.55,4.51,2.82,4.645,2.885,4.59,2.89,4.585,2.88,4.595,2.82,4.56,2.765,4.56,2.74,4.58,2.95,4.63,2.99,4.65,3.05,4.645,3.09,4.66,2.98,4.585,2.985,4.58,3.155,4.595,3.16,4.59,3.2,4.61,3.1,4.56,2.98,4.53,2.885,4.535,2.91,4.50,3.05,4.49,3.14,4.50,2.94,4.465,2.85,4.45,2.855,4.42,2.75,4.47,2.755,4.465,2.78,4.515,2.82,4.40,2.68,4.48,2.64,4.45,1.98,4.515,1.985,4.51,1.975,4.52,2.08,4.52,2.08,4.49,2.15,4.47,2.29,4.505,2.25,4.475,2.27,4.45,2.055,4.44,2.06,4.435,2.065,4.44,2.18,4.42,2.13,4.405,2.22,4.375,2.44,4.46,2.49,4.46,2.47,4.38,2.495,4.36,2.535,4.365,2.48,4.395,2.70,5.82,2.855,5.82,3.0,5.82,3.21,5.825,3.265,5.84,3.32,5.85,3.425,5.845,3.43,5.845,3.37,5.815,3.47,5.79,3.475,5.785,3.465,5.795,3.47,5.75,3.475,5.745,3.465,5.755,3.54,5.825,3.59,5.86,3.68,5.865,3.80,5.88,3.69,5.815,3.75,5.80,3.92,5.80,3.57,5.755,3.12,5.755,3.125,5.75,2.995,5.735,2.97,5.725,2.86,5.715,3.19,5.72,2.925,5.65,2.98,5.645,2.995,5.60,3.02,5.67,3.345,5.675,3.40,5.65,3.37,5.645,3.26,5.625,3.51,5.625,3.36,5.61,3.43,5.61,3.30,5.585,3.22,5.58,3.45,5.57,2.75,5.60,2.705,5.55,2.83,5.55,2.85,5.53,2.94,5.57,3.01,5.57,3.01,5.545,2.95,5.51,2.56,5.515,2.61,5.47,3.115,5.55,3.17,5.55,3.24,5.52,3.34,5.56,3.335,5.52,3.385,5.54,3.51,5.54,3.155,5.51,3.16,5.505,3.15,5.515,3.165,5.50,3.18,5.47,3.185,5.465,3.175,5.475,3.19,5.48,3.25,5.48,3.43,5.50,3.16,5.49,3.18,5.435,3.185,5.43,3.67,5.56,3.72,5.57,3.78,5.575,3.885,5.50,3.99,5.475,2.80,5.03,3.14,5.04,3.70,5.46,3.79,5.43,3.71,5.40,3.715,5.395,3.705,5.405,3.37,5.43,3.475,5.435,3.32,5.415,3.28,5.385,3.285,5.38,3.275,5.39,3.20,5.39,3.44,5.39,3.445,5.385,3.435,5.395,3.52,5.40,3.12,5.385,3.075,5.35,3.115,5.34,3.115,5.31,3.12,5.305,3.11,5.315,3.17,5.34,3.24,5.37,3.32,5.34,3.345,5.305,3.29,5.31,3.345,5.285,3.35,5.28,3.34,5.29,3.48,5.29,3.485,5.285,3.475,5.295,3.48,5.28,3.53,5.31,3.56,5.335,3.59,5.35,2.91,5.27,3.44,5.265,3.49,5.27,3.24,5.25,3.25,5.23,3.05,5.23,3.055,5.225,3.045,5.235,3.32,5.205,3.385,5.22,3.39,5.215,3.43,5.19,3.435,5.185,3.425,5.195,3.41,5.145,3.415,5.14,3.405,5.15,3.48,5.185,3.48,5.14,3.56,5.19,3.67,5.21,3.675,5.205,3.665,5.215,3.72,5.205,3.62,5.17,3.70,5.17,3.615,5.14,2.97,5.17,3.70,5.115,3.45,5.06,3.495,5.03,3.56,5.02,3.535,5.01,3.32,5.0,3.41,4.99,3.415,4.985,3.405,4.995,3.73,5.07,3.70,5.055,3.72,4.995,3.78,4.995,3.76,4.97,3.56,4.965,3.595,4.96,3.25,4.93,3.265,4.915,3.35,4.93,3.45,4.93,3.45,4.915,3.53,4.92,2.96,4.915,3.575,4.89,3.68,4.885,3.72,4.86,3.73,4.84,3.36,4.875,3.345,4.845,3.35,4.85,3.385,4.825,3.39,4.82,3.38,4.83,3.385,4.81,3.39,4.835,3.40,4.82,3.41,4.80,3.41,4.785,3.415,4.78,3.385,4.785,3.345,4.74,3.35,4.735,3.34,4.745,3.35,4.72,3.34,4.73,3.345,4.715,3.30,4.83,3.48,4.825,3.50,4.83,3.43,4.715,3.32,4.68,3.325,4.675,3.36,4.68,3.38,4.685,2.85,4.83,2.80,4.78,3.13,4.78,3.17,4.785,2.97,4.75,3.59,4.77,3.67,4.75,2.82,4.695,3.22,4.72,3.13,4.675,3.2,4.68,3.28,4.705];
const blueMidSouth=[3.99,5.095,4.04,5.12,4.07,5.135,4.11,5.155,4.10,5.085,3.99,5.315,4.09,5.415,4.095,5.41,4.15,5.36,4.15,5.335,4.15,5.26,4.335,5.265,4.365,5.275,4.38,5.42,4.44,5.44,4.50,5.465,4.57,5.43,4.42,5.385,4.48,5.395,4.53,5.415,4.40,5.335,4.43,5.31,4.63,5.375,4.63,5.355,4.59,5.335,4.615,5.32,4.585,5.30,4.60,5.28,4.73,5.355,4.73,5.30,4.67,5.23,4.61,5.215,4.67,5.17,4.83,5.225,4.835,5.22,4.825,5.23,4.79,5.19,4.83,5.195,4.79,5.155,4.795,5.15,4.785,5.16,4.80,5.145,4.87,5.11,4.875,5.105,4.865,5.115,4.93,5.13,4.72,5.08,4.815,5.06,4.88,5.07,4.845,4.99,4.06,5.70,4.125,5.75,4.155,5.75,4.13,5.67,4.17,5.66,4.24,5.63,4.385,5.66,4.39,5.655,4.46,5.59,4.465,5.585,4.455,5.595,4.38,5.83,4.385,5.825,4.375,5.835,4.39,5.82,4.37,5.82,4.40,5.83,4.38,5.81,4.41,5.84,4.28,5.825,4.48,5.85,4.33,5.86,4.43,5.77,4.41,5.72,4.45,5.75,4.52,5.75,4.56,5.76,4.62,5.845,4.62,5.79,4.625,5.785,4.615,5.795,4.63,5.78,4.655,5.76,4.64,5.71,4.63,5.70,4.635,5.695,4.50,5.685,4.54,5.645,4.64,5.64,4.75,5.685,4.72,5.84,4.79,5.87,4.87,5.83,4.875,5.825,4.865,5.835,4.80,5.785,4.9,5.74,4.65,5.58,4.60,5.555,4.655,5.53,4.64,5.515,4.75,5.60,4.76,5.585,4.81,5.61,4.83,5.53,4.91,5.50,4.715,5.475,4.785,5.47,4.955,5.555,4.96,5.55,4.99,5.55,5.03,5.57,5.09,5.62,5.01,5.715,5.08,5.695,5.15,5.70,5.01,5.67,5.15,5.66,5.19,5.835,5.26,5.805,5.31,5.81,5.13,5.77,5.27,5.675,5.34,5.625,5.52,5.625,5.59,5.635,5.67,5.635,5.74,5.60,5.76,5.56,5.75,5.54,5.92,5.63,5.925,5.61,5.87,5.52,5.90,5.55,5.39,5.76,5.465,5.745,5.425,5.725,5.36,5.735,5.60,5.77,5.02,5.55,5.06,5.55,5.03,5.515,5.035,5.51,5.025,5.52,5.03,5.50,5.085,5.505,5.155,5.52,4.98,5.46,4.985,5.455,5.03,5.455,5.07,5.47,5.36,5.525,5.365,5.52,5.355,5.53,5.36,5.465,5.235,5.44,4.975,5.40,5.60,5.49,5.61,5.435,5.615,5.415,5.66,5.40,5.64,5.37,5.55,5.37,5.515,5.395,5.425,5.39,5.41,5.35,5.82,5.43,5.91,5.46,5.91,5.34,5.68,5.30,5.84,5.265,5.26,5.275,5.54,5.21,5.755,5.23,5.145,5.22,5.07,5.18,5.29,5.19,5.425,5.17,5.26,5.125,5.38,5.13,5.51,5.11,5.52,5.13,5.69,5.12,5.77,5.155,5.82,5.14,5.09,5.03,5.12,5.0,5.16,5.02,5.165,5.015,5.155,5.025,5.15,5.01,5.17,5.02,5.22,5.025,5.25,5.065,5.26,5.045,5.22,4.995,5.33,5.06,5.32,5.03,5.37,5.04,5.41,5.045,5.37,5.0,5.41,4.995,5.29,4.975,5.18,4.93,5.48,5.01,5.56,4.99,5.565,4.985,5.555,4.995,5.55,5.07,5.59,5.08,5.535,5.04,5.65,5.04,5.655,5.035,5.645,5.045,5.53,5.10,5.90,4.93,5.75,5.02,5.0,5.79,6.0,5.79,6.39,5.78,6.395,5.775,6.385,5.785,6.28,5.745,6.30,5.63,6.05,5.65,5.93,5.64,5.93,5.615,5.94,5.60,5.895,5.55,5.87,5.52,6.06,5.515,6.075,5.53,6.095,5.54,5.945,5.46,6.115,5.465,5.91,5.34,5.86,5.27,6.0,5.24,6.02,5.10,5.925,5.06,5.98,5.01];
const blueSouthEast=[6.41,5.815,6.55,5.83,6.56,5.85,6.61,5.875,6.655,5.83,6.75,5.80,6.445,5.68,6.48,5.71,6.49,5.735,6.56,5.76,6.65,5.725,6.65,5.68,6.78,5.695,7.13,5.845,7.17,5.875,7.2,5.83,7.495,5.75,7.58,5.75,7.63,5.77,7.60,5.88,7.64,5.865,7.70,5.85,7.72,5.71,7.73,5.64,7.90,5.615,7.80,5.59,7.84,5.56,7.74,5.525,7.87,5.52,8.06,5.85,8.055,5.825,8.28,5.83,8.19,5.64,8.13,5.59,8.195,5.585,8.08,5.565,8.11,5.55,8.47,5.62,6.67,5.60,6.71,5.585,6.715,5.58,6.705,5.59,6.785,5.59,6.70,5.56,6.655,5.535,6.54,5.58,6.46,5.56,6.44,5.545,6.925,5.51,7.075,5.48,7.05,5.46,7.24,5.525,7.25,5.48,6.50,5.455,6.535,5.42,6.635,5.43,6.61,5.39,6.46,5.365,6.57,5.35,6.715,5.38,6.785,5.39,6.83,5.365,6.92,5.43,6.925,5.425,6.915,5.435,7.14,5.39,7.26,5.39,6.91,5.325,6.94,5.335,7.02,5.315,6.785,5.295,6.455,5.27,6.48,5.245,6.655,5.27,6.71,5.27,6.615,5.225,6.62,5.23,6.61,5.22,6.625,5.225,6.535,5.235,6.555,5.205,6.68,5.22,6.82,5.25,6.845,5.23,6.85,5.225,6.87,5.23,6.86,5.20,6.815,5.195,7.13,5.25,7.18,5.24,7.22,5.27,7.195,5.225,7.37,5.30,7.405,5.335,7.47,5.315,7.45,5.27,7.525,5.25,7.59,5.22,7.62,5.255,7.655,5.285,6.72,5.175,6.765,5.145,6.78,5.115,6.785,5.11,6.775,5.12,6.75,5.12,6.82,5.11,6.87,5.145,6.94,5.13,6.98,5.13,7.05,5.14,7.055,5.135,7.045,5.145,7.16,5.115,7.425,5.145,7.485,5.125,7.54,5.13,7.52,5.17,7.63,5.16,7.715,5.16,7.655,5.115,7.695,5.12,7.80,5.20,7.81,5.12,7.90,5.11,7.82,5.28,7.865,5.27,7.87,5.265,7.86,5.275,7.93,5.18,7.965,5.175,8.0,5.205,8.08,5.205,8.01,5.14,8.26,5.13,6.91,5.08,6.53,5.07,6.535,5.065,6.525,5.075,6.73,5.04,6.91,5.04,6.94,5.04,7.01,5.06,7.10,5.07,7.14,5.08,7.195,5.06,7.05,5.02,7.09,5.0,7.095,4.995,7.085,5.005,7.13,5.025,6.98,5.0,7.18,5.0,7.26,4.98,7.29,5.03,7.335,5.065,6.425,5.0,6.73,4.98,6.735,4.975,6.725,4.97,6.74,4.975,6.845,4.965,6.85,4.96,6.84,4.97,6.41,4.92,6.555,4.92,6.58,4.905,6.68,4.91,6.82,4.90,6.79,4.87,7.02,4.94,7.05,4.94,7.195,4.92,7.30,4.925,7.39,4.925,7.425,4.91,7.46,4.905,7.57,4.91,7.13,4.895,7.21,4.88,7.215,4.865,7.27,4.855,7.495,4.85,7.50,4.82,7.63,4.84,6.83,4.83,6.87,4.845,6.91,4.83,6.96,4.85,6.865,4.765,7.17,4.765,7.175,4.76,7.165,4.77,7.25,4.80,7.295,4.80,7.52,4.775,7.36,4.755,7.28,4.74,7.27,4.71,7.41,4.735,7.48,4.72,7.485,4.715,7.475,4.71,7.49,4.71,7.495,4.705,7.52,4.735,7.50,4.695,7.59,4.705,7.595,4.70,7.585,4.71,7.615,4.745,7.67,4.745,7.695,4.69,7.64,4.69,7.71,4.65,7.60,4.63,7.67,4.60,7.53,4.58,7.615,4.58,7.595,4.555,7.66,4.55,7.77,4.58,7.765,4.56,7.50,5.075,7.56,5.07,7.565,5.065,7.555,5.075,7.615,5.05,7.545,5.04,7.535,5.025,7.54,5.0,7.67,5.06,7.70,5.0,7.705,4.995,7.695,5.005,7.71,4.99,7.69,4.99,7.75,5.01,7.83,5.04,7.90,5.02,7.81,5.0,7.68,4.945,7.72,4.925,7.76,4.91,7.83,4.94,7.87,4.945,7.855,4.91,7.79,4.875,7.90,4.875,7.905,4.87,7.895,4.88,7.91,4.875,7.89,4.87,7.915,4.855,7.92,4.85,7.91,4.845,7.82,4.86,7.885,4.895,7.965,4.915,8.045,4.93,8.10,4.935,8.155,4.915,8.16,4.91,8.15,4.92,8.24,4.935,8.02,4.875,8.085,4.83,8.09,4.825,8.08,4.835,8.095,4.83,8.075,4.825,8.085,4.80,8.06,4.775,8.22,4.81,8.225,4.805,8.215,4.815,8.23,4.80,8.21,4.80,8.225,4.79,8.235,4.79,8.22,4.785,8.18,4.83,8.28,4.83,8.235,4.78,8.20,4.785,8.26,4.785,7.76,4.785,7.79,4.80,7.86,4.81,7.91,4.795,7.915,4.79,7.905,4.80,7.95,4.755,7.845,4.735,7.86,4.71,7.79,4.71,7.86,4.68,7.94,4.70,8.01,4.70,8.02,4.655,8.025,4.65,8.015,4.66,8.11,4.675,8.16,4.71,8.165,4.705,8.155,4.715,8.24,4.71,8.33,4.745,8.335,4.74,8.325,4.75,8.25,4.665,8.29,4.64,8.37,4.60,8.395,4.695,8.40,4.69,8.39,4.70,8.37,4.66,8.145,4.63,8.18,4.62,8.22,4.61,8.195,4.57,8.28,4.59,7.925,4.63,7.91,4.585,7.915,4.58,7.905,4.59,7.90,4.575,7.92,4.585,7.885,4.60,7.91,4.55,7.94,4.515,7.945,4.51,7.935,4.52,7.855,4.515,7.82,4.535,7.77,4.55,8.06,4.56,8.14,4.53,8.21,4.56,7.80,4.465,7.73,4.42,7.90,4.48,7.91,4.435,7.965,4.42,8.02,4.47,8.025,4.465,8.015,4.475,8.03,4.47,8.10,4.475,8.06,4.41,8.17,4.41,8.175,4.405,8.165,4.415,8.155,4.39,8.01,4.365,8.0,4.36,8.02,4.36,8.05,4.355,8.24,4.47,8.25,4.475,8.255,4.465,8.27,4.46,8.29,4.50,8.32,4.495,8.385,4.53,8.39,4.525,8.385,4.48,8.39,4.475,8.38,4.485,8.395,4.48,8.375,4.47,8.39,4.49,8.40,4.47,8.345,4.46,8.41,4.46,8.385,4.43,8.39,4.425,8.38,4.435,8.395,4.42,8.375,4.425,8.45,4.425,8.455,4.42,8.49,4.58,8.495,4.575,8.485,4.585,8.50,4.58,8.51,4.57,8.48,4.57,8.53,4.62,8.57,4.62,8.625,4.60,8.63,4.595,8.62,4.605,8.655,4.63,8.57,4.57,8.71,4.69,8.715,4.685,8.705,4.695,8.70,4.68,8.72,4.68,8.71,4.715,8.68,4.655,8.545,4.49,8.55,4.47,8.615,4.465,8.63,4.435,8.66,4.53,8.73,4.54,8.735,4.535,8.73,4.49,8.235,4.375,8.24,4.37,8.305,4.385,8.355,4.36,8.34,4.33,8.24,4.34,7.86,4.385,7.80,4.37,7.845,4.35,7.81,4.32,8.79,4.655,8.79,4.62,8.82,4.71,8.925,4.73,8.99,4.76,8.995,4.755,8.985,4.765,8.99,4.73,9.01,4.70,9.06,4.77,8.68,4.75,8.74,4.73,8.655,4.88,8.72,4.925,8.80,4.865,8.80,4.84,8.90,4.875,8.98,4.875,9.05,4.91,9.24,4.93,8.64,4.825,8.465,4.815,8.52,4.85,8.52,4.815,8.525,4.81,8.515,4.82,8.45,4.78,8.545,4.80,8.465,4.765];
const blueEastHidden=[8.36,5.03,8.37,4.95,8.425,5.0,8.44,4.98,8.55,4.925,8.44,4.91,8.445,4.905,8.435,4.915,8.40,4.875,8.05,5.10,8.05,5.07,8.055,5.065,8.045,5.075,8.13,5.06,8.075,5.02,8.195,5.045,8.17,5.01,8.36,5.095,8.385,5.075,8.55,5.155,8.445,5.235,8.54,5.235,8.27,5.265,8.28,5.225,8.525,5.305,8.18,5.34,8.34,5.365,8.05,5.32,8.66,5.38,8.745,5.365,8.67,5.265,8.74,5.265,8.92,5.40,9.0,5.45,8.89,5.06,9.03,5.11,8.32,5.47,8.195,5.465,8.04,5.47,8.06,5.45,7.90,5.455,7.845,5.455,7.87,5.48,7.60,5.425,7.63,5.395,7.715,5.425,7.705,5.375,7.82,5.385,7.805,5.355,7.79,5.345,7.86,5.33,7.91,5.35,7.915,5.345,7.95,5.30,7.95,5.25,7.995,5.255,8.0,5.238,8.83,5.67,9.01,5.64,9.10,5.64,8.91,5.795,8.93,5.61,6.06,7.99,5.91,7.96,6.24,7.865,6.31,7.81,6.33,7.765,6.385,7.85,6.49,7.82,5.87,7.75,5.91,7.70,6.13,7.695,6.075,7.665,5.87,7.64,6.03,7.615,6.16,7.62,5.995,7.545,6.30,7.57,5.885,7.55,5.885,7.525,5.86,7.505,6.455,7.51,6.50,7.505,6.61,7.525,6.68,7.525,5.86,7.44,6.41,7.44,6.54,7.42,6.65,7.44,6.59,7.39,6.515,7.345,6.78,7.335,6.58,7.305,6.525,7.295,6.465,7.285,6.56,7.255,6.36,7.265,6.98,7.235,6.79,7.19,6.59,7.155,6.72,7.155,6.97,7.16,6.31,7.10,7.03,7.0,6.91,7.06,6.02,6.995,6.04,6.98,5.90,6.95,6.42,6.92,5.97,6.86,7.29,6.77,6.60,6.74,5.96,6.75,5.86,6.755,5.90,6.705,7.81,6.65,7.56,6.595,6.475,6.58,5.845,6.615,5.88,6.59,5.92,6.565,5.95,6.52,6.06,6.53,7.375,6.46,8.08,6.46,6.22,6.41,7.155,6.41,7.195,6.36,6.32,6.335,6.08,6.33,7.03,6.33,6.27,6.29,6.35,6.26,6.005,6.26,6.075,6.26,6.03,6.25,6.70,6.25,7.05,6.255,7.365,6.32,7.36,6.295,7.315,6.27,7.48,6.26,7.465,6.215,7.21,6.22,7.97,6.30,8.28,6.19,8.28,6.14,8.50,6.11,8.54,6.10,7.32,6.19,7.31,6.16,7.45,6.175,6.29,6.175,6.385,6.165,6.44,6.175,6.44,6.165,6.51,6.165,6.52,6.145,6.60,6.15,6.655,6.15,6.70,6.17,6.60,6.115,6.655,6.105,6.75,6.10,6.91,6.14,7.19,6.15,5.925,6.09,6.485,6.09,6.85,6.075,7.015,6.10,7.02,6.095,7.01,6.105,7.06,6.08,7.13,6.095,7.29,6.11,7.345,6.105,7.385,6.135,7.40,6.105,7.425,6.08,7.385,6.06,7.48,6.055,7.53,6.065,7.505,6.05,7.60,6.10,7.04,6.045,7.035,6.04,7.05,6.035,7.17,6.05,6.10,6.045,6.165,6.045,6.52,6.04,6.73,6.03,6.30,6.02,5.945,6.01,6.58,6.01,6.23,5.99,5.97,5.975,6.85,6.005,6.895,5.99,6.9,5.985,6.90,5.975,6.98,5.97,7.01,6.0,7.32,6.02,7.425,6.01,7.38,5.995,7.535,6.015,7.59,5.995,7.535,5.985,7.59,5.96,7.575,5.94,6.21,5.92,6.75,5.925,6.755,5.92,6.745,5.93,6.80,5.90,7.32,5.94,7.71,5.92,7.59,5.885,7.64,5.865,7.70,5.85,7.13,5.855,7.17,5.875,6.555,5.85,6.61,5.875,6.67,5.85,8.06,5.85,8.28,5.83,7.54,8.05,8.06,8.04,7.75,7.725,6.81,7.94,8.06,7.925,8.18,7.91,7.26,7.79,8.86,8.04,8.80,7.71,7.24,7.53,7.99,7.33,7.86,7.24,8.18,7.21,8.11,7.08,7.82,7.0,7.98,6.98,8.68,6.9,8.06,6.77,9.11,6.75,8.48,6.52,8.61,6.55,8.68,6.43,8.55,6.40,9.11,6.36,8.73,5.98,5.89,8.90,6.2,8.87,6.33,8.79,5.93,8.63,6.09,8.6,6.76,8.56,6.81,8.52,6.95,8.58,6.68,8.48,6.74,8.425,6.08,8.35,5.96,8.33,6.87,8.19,6.01,8.13,6.01,8.10,6.8,8.09,7.95,8.21,8.32,8.205,8.38,8.17,8.28,8.12,8.74,8.10,9.26,8.24,9.25,8.17,9.1,8.19,7.11,8.30,7.235,8.385,7.21,8.345,8.84,8.30,9.05,8.505,8.94,8.55,8.68,8.43,9.17,8.66,9.10,8.64,8.48,8.72,8.87,8.77,8.96,8.96,9.08,8.92,9.01,9.06,8.6,8.89,8.72,9.10,8.13,8.98,7.51,8.86,7.35,9.04,7.51,9.05,7.57,9.08,7.14,9.0,7.15,8.91,7.06,9.04,7.19,9.17,7.55,9.15,7.71,9.19,7.59,9.27,7.64,9.36,7.70,9.44,7.87,9.44,8.02,9.445,8.15,9.40,8.29,9.48,8.31,9.45,8.52,9.44,8.53,9.34,8.63,9.31,8.74,9.30,8.61,9.2];
const blueDenseCores=[.92,8.67,.93,8.665,.94,8.675,.95,8.66,.96,8.665,.94,8.65,.95,8.64,.97,8.65,.93,8.64,.98,8.665,2.91,8.19,2.915,8.185,2.905,8.195,2.92,8.17,2.90,8.175,2.94,8.17,2.91,8.15,2.96,8.19,2.93,8.20,2.89,8.19,2.19,6.36,2.21,6.37,2.23,6.39,2.25,6.42,2.20,6.33,2.18,6.35,2.24,6.35,2.30,6.42,2.34,6.48,2.36,6.50,.61,5.30,.63,5.30,.65,5.31,.62,5.29,.64,5.285,.66,5.28,.60,5.31,.59,5.29,.70,5.26,.72,5.25,3.38,4.81,3.39,4.80,3.37,4.79,3.40,4.83,3.36,4.80,3.385,4.84,3.35,4.76,3.34,4.77,2.33,4.60,2.32,4.59,2.29,4.57,2.35,4.61,2.63,4.49,2.65,4.53,2.61,4.52,2.66,4.50,2.57,4.53,2.55,4.55,8.24,4.80,8.25,4.82,8.21,4.77,8.27,4.76,8.23,4.75,8.28,4.80,8.20,4.82,8.08,4.80,8.10,4.79,8.06,4.81,8.13,4.76,7.90,4.59,7.89,4.56,7.92,4.55,7.93,4.60,7.88,4.53,7.87,4.50,8.42,4.48,8.43,4.45,8.44,4.50,8.41,4.40,8.42,4.38,8.35,4.50,8.33,4.47,8.30,4.47,8.47,4.42,8.46,4.40,8.57,4.59,8.58,4.60,8.55,4.57,8.60,4.55,8.53,4.55,8.05,4.42,8.08,4.38,7.98,4.39,7.95,4.41,8.03,4.44,8.12,4.38,8.20,4.37,8.28,4.40,8.35,4.43,8.70,4.66,8.71,4.67,8.69,4.70,7.93,4.86,7.94,4.88,7.88,4.82,7.96,4.83,7.68,5.00,7.72,5.01,7.74,4.97,4.38,5.86,4.36,5.80,4.40,5.80,4.34,5.83,4.42,5.79,5.08,5.50,5.06,5.52,5.10,5.49,5.20,5.01,5.18,4.99,5.14,5.03];
const orangeStray=[.83,8.53,1.07,8.56,1.115,8.585,1.14,8.56,1.12,8.57,-.785,6.62,2.245,8.45,3.32,8.69,3.66,8.71,3.77,8.77,3.86,8.77,3.86,8.73,2.82,7.81,2.31,6.74,3.69,6.56,3.43,6.07,4.515,7.255,5.32,7.43,5.50,7.19,5.725,6.95,5.72,6.575,3.49,5.745,3.10,5.68,3.567,5.39,3.60,5.41,3.66,5.425,3.235,4.645,2.615,4.385,2.73,4.395,5.80,5.07,5.835,5.09,5.89,5.07,5.885,5.07,6.14,5.795,8.28,5.70,8.335,5.505,8.45,5.42,8.59,5.285,8.48,5.15,8.60,5.05,8.52,4.97,8.29,4.88,8.10,4.36,8.53,4.515,8.50,4.72,8.71,4.84,8.75,4.75,8.82,4.755];
const orangeSouthBand=[9.13,4.74,9.19,4.79,9.14,4.79,9.14,4.82,9.19,4.85,9.19,4.88,9.10,4.895,9.20,4.91,9.07,4.915,9.14,4.96,9.2,4.95,9.28,4.96,9.29,5.01,9.15,5.02,9.13,5.03,9.01,4.98,9.26,5.07,9.32,5.10,9.13,5.11,8.98,5.11,8.9,5.12,8.80,5.09,8.84,5.16,8.97,5.18,9.16,5.18,9.21,5.17,9.26,5.17,9.25,5.15,9.33,5.20,9.29,5.22,9.26,5.26,9.27,5.245,9.22,5.23,8.82,5.255,8.90,5.27,9.03,5.27,8.91,5.305,8.97,5.35,9.04,5.32,9.22,5.31,9.30,5.31,9.41,5.25,9.40,5.30,9.44,5.29,9.06,5.40,9.20,5.43,9.155,5.47,9.18,5.50,9.26,5.45,9.32,5.435,9.25,5.405,9.355,5.40,9.355,5.37,9.40,5.355,9.26,5.37,8.91,5.485,8.915,5.51,9.04,5.545,9.11,5.55,8.525,5.55,8.595,5.545,9.32,5.505,9.42,5.50,9.355,5.48,9.445,5.545,9.33,5.57,9.26,5.55,9.40,5.61,9.34,5.63,9.26,5.585,9.25,5.64,9.20,5.65,9.08,5.645,8.90,5.605,8.88,5.665,8.84,5.715,8.79,5.76,9.01,5.72,8.865,5.775,8.94,5.79,9.04,5.78,9.10,5.82,9.18,5.715,9.15,5.715,9.35,5.70,9.41,5.70,9.27,5.70,9.24,5.75,9.345,5.755,9.40,5.755,9.24,5.795,9.19,5.83,9.235,5.86,9.33,5.84,9.38,5.85,8.97,5.835,9.04,5.855,8.87,5.845,8.68,5.87,8.845,5.896,8.95,5.896,9.06,5.89,9.22,5.89,9.27,5.875];
const orangeNorthArch=[4.97,9.87,4.91,9.87,4.87,9.845,4.82,9.85,4.79,9.835,4.74,9.80,4.67,9.81,4.85,9.81,4.91,9.83,4.98,9.82,4.99,9.79,5.03,9.775,5.07,9.78,5.13,9.765,5.06,9.74,5.17,9.745,5.22,9.73,5.0,9.72,5.09,9.72,5.16,9.71,5.21,9.685,5.30,9.69,5.33,9.64,5.235,9.65,5.17,9.64,5.30,9.61,5.25,9.61,4.88,9.75,4.775,9.765,4.76,9.74,4.66,9.76,4.56,9.77,4.53,9.745,4.505,9.715,4.615,9.71,4.70,9.71,4.55,9.68,4.43,9.67,4.71,9.66,4.78,9.635,4.83,9.59,4.87,9.67,4.91,9.64,5.03,9.67,5.10,9.68,5.03,9.60,5.10,9.57,5.17,9.565,4.925,9.58,4.90,9.55,4.47,9.62,4.44,9.59,4.385,9.63,4.32,9.615,4.33,9.58,4.26,9.58,4.14,9.55,4.10,9.53,4.18,9.50,4.10,9.48,4.03,9.42,3.85,9.33,3.85,9.21,4.03,9.195,4.215,9.24,4.38,9.295,4.59,9.32,4.655,9.37,4.615,9.27,4.56,9.43,4.53,9.49,4.56,9.515,4.67,9.55,4.70,9.575,4.77,9.40,4.825,9.48,4.90,9.455,4.855,9.435,4.90,9.425,4.91,9.36,4.88,9.285,4.925,9.27,4.885,9.235,4.94,9.25,4.89,9.18,5.02,9.16,4.97,9.11,5.145,9.11,5.195,9.11,5.155,9.09,4.89,9.065,4.96,9.04,5.04,9.01,4.58,9.03,4.86,9.0,4.48,8.91,4.85,8.925,4.96,8.91,4.80,8.885,4.61,8.865,4.86,8.845,4.32,8.825,4.285,8.74,4.32,8.675,4.18,8.60,4.79,8.795,4.78,8.76,4.98,8.71,4.81,8.67,4.925,8.65,5.02,8.67,5.07,8.62,5.19,8.51,5.12,8.44,5.34,8.535,5.30,8.365,5.31,8.34,5.41,8.22,5.465,8.345,5.54,8.35,5.495,8.375,5.53,8.42,5.56,8.27,5.64,8.31,5.81,8.27,5.75,8.42,5.82,8.395,5.67,8.46,5.52,8.485,5.59,8.51,5.49,8.535,5.03,9.49,5.085,9.48,5.115,9.45,5.155,9.53,5.20,9.50,5.25,9.45,5.235,9.43,5.155,9.425,5.115,9.40,5.06,9.385,5.28,9.38,5.235,9.365,5.07,9.35,5.02,9.315,5.175,9.32,5.17,9.275,5.18,9.25,5.22,9.20,5.185,9.22,5.22,9.31,5.255,9.315,5.47,9.31,5.495,9.315,5.465,9.27,5.385,9.44,5.385,9.40,5.47,9.46,5.50,9.40,5.52,9.365,5.56,9.47,5.64,9.45,5.61,9.39,5.655,9.40,5.75,9.42,5.735,9.39,5.79,9.41,5.505,9.335,5.59,9.33,5.67,9.355,5.64,9.32,5.73,9.33,5.465,9.27,5.53,9.27,5.53,9.225,5.52,9.205,5.59,9.195,5.405,9.165,5.53,9.15,5.63,9.155,5.67,9.175,5.73,9.18,5.72,9.145,5.83,9.13,5.70,9.12,5.70,9.08,5.76,9.09,5.64,9.05,5.56,9.075,5.53,9.055,5.575,9.025,5.55,9.01,5.57,8.995,5.61,9.01,5.56,8.965,5.40,9.065,5.30,9.025,5.36,9.01,5.03,8.99,5.24,8.98,5.275,8.98,5.48,8.995,5.67,8.97,5.75,8.95,5.86,8.93,5.55,8.905,5.47,8.875,5.77,8.89,5.805,8.89,5.345,8.86,5.235,8.85,5.18,8.84,5.115,8.82,5.115,8.795,5.28,8.77,5.40,8.775,5.63,8.84,5.695,8.80,5.75,8.79,5.81,8.79,5.53,8.745,5.54,8.72,5.65,8.735,5.75,8.70,5.83,8.70,5.25,8.74,5.16,8.74,5.15,8.71,5.17,8.69,5.295,8.65,5.35,8.67,5.32,8.605,5.96,8.67,5.81,8.63,5.92,8.63,5.615,8.6,5.65,8.55,5.73,8.535,5.85,8.55,5.80,8.525,5.92,8.52,5.86,8.50,5.925,8.475,5.78,8.48,5.85,8.46,5.95,8.45,5.67,8.46,6.0,8.30,6.0,8.25,5.96,8.16,5.95,8.12];
const orangeNorthEastA=[5.87,9.28,5.97,9.30,5.91,9.26,5.98,9.23,6.03,9.23,5.95,9.20,6.02,9.19,6.09,9.17,5.97,9.16,6.03,9.10,5.95,9.08,6.115,9.09,6.25,9.11,6.09,9.05,6.03,9.03,6.18,9.02,6.17,9.0,6.03,8.98,5.98,8.95,6.075,8.94,6.02,8.90,6.10,8.91,6.325,8.96,6.28,8.92,6.195,8.92,6.28,8.885,5.95,8.86,6.115,8.86,6.195,8.85,6.29,8.82,6.225,8.83,6.055,8.82,6.055,8.78,6.115,8.74,5.98,8.74,5.87,8.74,6.40,9.06,6.48,9.06,6.46,9.10,6.41,9.03,6.45,9.01,6.68,9.01,6.76,9.03,6.495,8.94,6.695,8.93,6.655,8.90,6.42,8.865,6.52,8.875,6.495,8.85,6.40,8.825,6.50,8.81,6.64,8.85,6.33,8.715,6.075,8.68,6.18,8.69,6.195,8.665,5.91,8.665,6.25,8.65,6.17,8.63,6.03,8.62,6.17,8.58,6.38,8.645,6.54,8.665,6.515,8.62,6.445,8.58,6.675,8.62,6.87,8.65,7.055,8.625,6.0,8.56,6.655,8.55,6.25,8.53,6.09,8.52,6.165,8.505,6.41,8.52,6.31,8.50,6.515,8.49,6.785,8.515,6.785,8.49,6.94,8.495,6.235,8.46,6.155,8.45,6.225,8.44,5.97,8.475,5.91,8.53,5.87,8.49,5.94,8.44,6.835,8.45,6.425,8.32,6.525,8.37,6.59,8.35,6.81,8.40,6.805,8.36,6.17,8.37,6.10,8.35,6.235,8.33,6.17,8.34,6.10,8.305,6.03,8.30,5.98,8.28,6.55,8.265,6.19,8.26,6.255,8.24,6.28,8.21,6.10,8.23,6.14,8.20,5.98,8.20,6.885,8.265,7.01,8.23,7.01,8.21,6.77,8.215,6.74,8.19,5.95,8.15,6.13,8.15,6.08,8.14,6.23,8.13,6.345,8.13,6.65,8.13,5.95,8.12,7.0,8.10,7.075,8.09];
const orangeNorthEastB=[7.17,9.20,7.245,9.205,7.335,9.21,7.425,9.19,7.18,9.125,7.25,9.16,7.305,9.16,7.40,9.14,7.22,9.10,7.17,9.08,7.22,9.07,7.305,9.07,7.36,9.055,7.18,9.07,7.41,9.075,7.25,9.03,7.45,9.02,7.505,9.03,7.53,9.0,7.465,8.99,7.51,8.96,7.075,8.95,7.22,8.96,7.195,8.92,7.48,8.92,7.22,8.885,7.37,8.92,7.33,8.90,7.385,8.865,7.31,8.865,7.235,8.84,7.38,8.81,7.47,8.815,7.55,8.83,7.18,8.78,7.18,8.74,7.17,8.715,7.29,8.75,7.275,8.695,7.44,8.72,7.565,9.075,7.575,9.33,7.53,9.29,7.615,9.31,7.615,9.23,7.60,9.19,7.63,9.16,7.53,9.13,7.72,9.175,7.735,9.26,7.775,9.30,7.735,9.23,7.80,9.255,7.79,9.36,7.87,9.38,7.91,9.25,7.95,9.32,7.87,9.30,7.94,9.40,7.87,9.43,7.78,9.44,7.675,9.41,7.83,9.18,7.82,9.125,7.94,9.16,7.98,9.175,7.925,9.105,8.005,9.145,8.055,9.10,8.155,9.15,8.235,9.17,8.24,9.105,8.26,9.13,7.83,9.035,7.80,9.07,7.91,9.07,7.96,9.025,7.83,8.975,7.73,8.95,8.13,9.08,8.09,9.03,8.14,9.03,8.21,9.04,8.28,9.05,8.345,9.025,8.385,8.98,8.45,8.98,8.465,9.04,8.45,8.915,8.19,9.22,8.39,9.36,8.48,9.38,8.50,9.355,8.57,9.40,8.545,9.43,8.665,9.33,8.12,9.47,8.185,9.43,8.275,9.445,8.355,9.45,8.33,9.51,8.395,9.47,8.445,9.47,8.49,9.475,8.545,9.43,8.39,9.275,8.45,9.28,8.52,9.275,8.51,9.24,8.56,9.24,8.585,9.24,8.52,9.205,8.69,9.20,8.675,9.24,8.675,9.20,8.79,9.20,8.79,9.17,8.87,9.20,8.55,9.14,8.64,9.095,8.51,9.085,8.87,9.12,8.90,9.05,8.83,9.06,8.85,9.06,8.995,9.09,8.05,9.055,8.0,9.03,8.70,9.03,8.62,9.03,8.68,8.98,8.80,9.0,8.67,8.99,8.82,8.97,8.915,9.05,8.97,9.01,9.0,8.98,9.03,8.94,8.91,8.95,8.74,8.94,8.79,8.96,8.955,8.96,9.07,8.945,9.02,8.91,8.91,8.91,8.725,8.895,8.82,8.875,8.76,8.845,8.75,8.83,8.18,8.83,8.42,8.825,8.54,8.82,8.68,8.80,8.79,8.78,8.85,8.785,8.90,8.79,9.0,8.82,9.06,8.84,9.115,8.80,8.45,8.78,8.45,8.75,8.40,8.76,8.37,8.73,8.71,8.75,8.76,8.735,8.76,8.685,8.83,8.705,8.68,8.68,8.98,8.68,9.06,8.74,9.09,8.755,9.12,8.75,9.06,8.72,9.14,8.715,9.11,8.68,8.815,8.63,8.365,8.63,8.37,8.60,8.45,8.60,8.42,8.565,8.75,8.58,8.81,8.56,8.695,8.55,8.76,8.545,8.68,8.52,9.155,8.595,9.21,8.59,8.97,8.58,9.02,8.56,9.10,8.49,9.18,8.51,9.195,8.485,9.14,8.46,8.88,8.475,8.925,8.465,8.98,8.47,9.03,8.42,9.07,8.42,9.11,8.42,9.165,8.445,8.785,8.41,8.855,8.375,8.96,8.375,9.05,8.38,9.13,8.385,8.64,8.36,8.71,8.345,8.82,8.35,8.90,8.335,8.98,8.345,9.27,8.34,8.91,8.32,8.98,8.32,9.09,8.30,8.90,8.28,9.18,8.27,8.87,8.23,9.03,8.22,9.155,8.21,9.10,8.17,9.19,8.195,9.18,8.15,8.905,8.145,8.98,8.15,9.23,8.14,9.19,8.11,8.67,8.165,8.545,8.105,8.65,8.10,8.585,8.09];
const orangeNorthCentre=[7.38,8.80,7.24,8.73,7.37,8.72,7.43,8.73,7.475,8.75,7.75,8.75,7.69,8.71,7.56,8.68,7.48,8.685,7.59,8.69,7.49,8.60,7.6,8.62,7.64,8.59,7.65,8.55,7.54,8.56,7.85,8.43,8.14,8.41,8.10,8.27,8.175,8.33,8.24,8.33,7.28,8.23,7.37,8.2,7.45,8.25,7.50,8.25,7.55,8.22,7.50,8.21,7.72,8.26,7.85,8.22,7.30,8.28,7.18,8.385,7.27,8.345,7.25,8.31,7.22,8.30,7.20,8.295,7.38,8.54,7.61,8.565,7.68,8.545,7.75,8.545,7.83,8.555,7.445,8.47,7.77,8.51,7.70,8.475,7.85,8.475,7.58,8.42,7.74,8.44,7.80,8.44,7.37,8.37,7.38,8.355,7.405,8.345,7.41,8.335,7.36,8.43,7.44,8.39,7.46,8.41,7.42,8.39,7.50,8.38,7.52,8.40,7.56,8.37,7.60,8.39,7.65,8.405,7.72,8.375,7.76,8.38,7.80,8.39,7.69,8.345,7.79,8.345,7.86,8.34,7.90,8.35,7.65,8.33,7.72,8.32,7.79,8.315,7.60,8.30,7.70,8.30,7.73,8.29,7.77,8.295,7.71,8.265,7.77,8.25,7.80,8.26,7.88,8.27,7.93,8.255,7.96,8.245,7.84,8.215,7.88,8.205,7.97,8.19,8.01,8.19,7.83,8.17,7.88,8.15,7.98,8.165,8.02,8.145,8.10,8.14,7.75,8.11,7.79,8.11,7.50,8.105,7.36,8.125,7.70,8.09,7.35,8.09];
const orangeEastUpper=[5.91,8.06,5.93,8.03,5.92,7.98,6.18,7.95,6.31,8.03,6.33,8.01,6.425,8.04,6.385,8.01,6.57,8.02,6.68,8.02,6.485,7.975,6.63,7.975,6.59,7.95,6.75,7.94,6.845,7.98,6.80,8.065,6.325,7.93,6.41,7.935,6.46,7.91,6.615,7.89,6.535,7.885,6.31,7.87,6.41,7.84,6.455,7.855,6.535,7.825,6.60,7.85,6.67,7.855,6.76,7.86,6.52,7.805,6.23,7.80,6.80,7.786,6.87,7.80,6.96,7.81,7.03,7.805,6.96,7.78,6.515,7.725,6.59,7.755,6.655,7.75,6.575,7.72,6.655,7.705,6.71,7.70,6.775,7.705,6.83,7.705,6.90,7.745,6.915,7.72,6.98,7.73,7.06,7.73,7.13,7.725,7.18,7.755,7.18,7.785,7.25,7.705,7.14,7.70,6.90,7.68,6.30,7.67,7.02,7.66,6.98,7.63,6.72,7.64,6.60,7.62,6.655,7.62,6.79,7.625,6.49,7.585,6.655,7.58,6.78,7.59,6.86,7.605,6.925,7.575,6.78,7.535,6.93,7.535,6.87,7.50,6.795,7.46,6.90,7.45,6.95,7.44,7.06,7.45,6.525,7.475,6.69,7.41,6.81,7.415,6.845,7.39,6.83,7.335,6.33,7.375,6.27,7.35,7.04,7.36,7.125,8.07,7.03,7.91,7.10,7.88,7.12,7.855,7.13,7.98,7.22,7.98,7.18,7.95,7.32,7.995,7.245,7.87,7.40,7.92,7.385,7.90,7.315,7.82,7.325,7.78,7.345,7.75,7.46,7.725,7.425,8.045,7.61,8.02,7.645,8.03,7.74,8.045,7.76,8.01,7.855,8.0,7.91,8.03,7.965,7.98,8.03,7.99,8.02,8.06,7.74,7.95,7.90,7.915,7.80,7.91,7.78,7.87,7.63,7.92,7.62,7.89,7.615,7.85,7.67,7.85,7.67,7.81,7.495,7.83,7.505,7.79,7.59,7.79,7.535,7.755,7.60,7.74,7.655,7.775,7.675,7.72,7.76,7.815,7.945,7.80,8.0,7.82,8.0,7.79,7.855,7.75,7.895,7.725,8.0,7.755,8.17,7.94,8.21,7.90,8.10,7.94,8.13,7.90,8.33,7.885,8.37,7.917,8.17,7.765,8.195,7.74,8.10,7.72,8.33,7.71,8.33,7.69,8.18,7.68,8.425,7.75,8.49,7.725,8.41,8.03,8.495,8.025,8.425,7.995,8.57,7.94,8.62,7.97,8.69,7.92,8.69,8.06,8.81,8.08,8.90,8.06,8.975,8.07,9.18,8.02,9.31,8.065,9.225,8.05,8.97,7.995,8.895,7.955,8.96,7.93,9.06,7.94,8.975,7.905,9.07,7.93,9.01,7.87,9.08,7.87,8.94,7.815,9.02,7.80,9.07,7.80,8.99,7.78,9.03,7.725,8.92,7.77,8.86,7.75,8.70,7.835,8.75,7.82,8.73,7.79,8.64,7.76,8.64,7.735,8.68,7.71,8.77,7.76,8.82,7.715,8.87,7.71,8.72,7.67,8.70,7.65,8.73,7.625,9.04,7.59,9.21,7.60,9.16,7.57,9.18,7.56,9.05,7.65,8.66,7.655,8.83,7.66];
const orangeEastMid=[7.36,7.665,7.44,7.665,7.23,7.645,7.27,7.615,7.31,7.64,7.385,7.64,7.45,7.64,7.54,7.615,7.43,7.585,7.48,7.58,7.57,7.59,7.66,7.585,7.655,7.56,7.58,7.54,7.62,7.54,7.75,7.66,7.75,7.625,7.85,7.615,7.75,7.595,7.88,7.58,7.82,7.595,7.82,7.56,7.87,7.535,7.80,7.51,8.13,7.59,8.17,7.55,8.10,7.54,8.20,7.505,8.37,7.53,8.54,7.58,8.94,7.575,8.98,7.565,7.10,7.565,7.14,7.55,7.31,7.545,7.24,7.53,7.52,7.495,7.53,7.47,7.80,7.51,7.925,7.495,7.86,7.475,8.0,7.495,8.06,7.515,8.05,7.475,7.925,7.46,7.76,7.455,7.68,7.44,7.655,7.43,7.75,7.42,7.855,7.415,7.91,7.37,7.79,7.395,7.655,7.366,7.74,7.366,7.855,7.35,8.01,7.385,8.10,7.37,7.99,7.35,8.03,7.45,8.085,7.445,8.135,7.42,8.195,7.455,8.275,7.45,8.35,7.475,8.54,7.49,8.68,7.465,8.755,7.455,8.84,7.475,8.48,7.43,8.42,7.395,8.715,7.37,8.905,7.40,8.83,7.34,9.02,7.345,7.465,7.405,7.44,7.375,7.43,7.335,7.50,7.30,7.31,7.345,7.345,7.29,7.425,7.28,7.825,7.315,7.72,7.28,7.615,7.255,7.72,7.26,7.68,7.235,7.76,7.235,7.925,7.28,7.925,7.24,8.005,7.27,8.07,7.265,7.98,7.235,7.60,7.21,7.68,7.21,7.72,7.185,7.845,7.21,8.02,7.195,7.845,7.165,7.90,7.17,7.50,7.15,7.54,7.15,7.615,7.135,7.66,7.14,7.41,7.19,7.235,7.225,7.12,7.27,7.22,7.213,7.17,7.2,7.305,7.15,7.475,7.12,7.195,7.125,7.285,7.12,7.0,7.0,7.10,7.06,7.125,7.025,7.18,7.06,7.19,7.055,7.20,7.005,7.16,6.975,7.12,6.96,7.22,6.935,7.46,7.03,7.48,7.02,7.39,6.94,7.42,6.94,7.455,6.94,7.62,6.906,7.72,6.94,7.73,6.90,7.84,7.075,7.90,7.01,7.655,6.99,7.86,6.985,7.98,6.975,7.84,6.94,7.925,6.955,7.99,6.95,8.095,7.055,8.11,7.04,8.04,7.125,8.195,7.336,8.235,7.30,8.29,7.29,8.37,7.31,8.45,7.30,8.53,7.345,8.60,7.335,8.55,7.31,8.235,7.27,8.22,7.25,8.35,7.27,8.50,7.27,8.42,7.245,8.21,7.22,8.305,7.225,8.40,7.20,8.38,7.175,8.235,7.165,8.30,7.17,8.335,7.135,8.32,7.105,8.465,7.125,8.53,7.12,8.68,7.145,8.67,7.11,8.80,7.12,8.34,7.06,8.48,7.08,8.57,7.065,8.645,7.06,8.76,7.09,8.33,7.02,8.53,7.03,8.60,7.01,8.88,6.98,9.03,6.95,8.33,6.97,8.40,6.97,8.53,6.985,8.65,6.97,8.66,6.95,8.26,6.945,8.58,6.935,8.12,6.925,8.19,6.89,8.40,6.925,8.41,6.905,8.67,6.92,8.66,6.895,8.76,6.905,8.79,6.87,8.85,6.88,8.93,6.88,8.45,6.87,8.52,6.875,8.57,6.865,8.13,6.85,8.225,6.845,8.29,6.85,8.385,6.82,8.505,6.825,8.57,6.82,8.80,6.835,9.23,6.865,8.695,6.80,7.75,6.795,7.81,6.76,8.63,6.775,8.57,6.755,8.945,6.765,9.03,6.77,8.11,6.77,7.17,6.73,7.25,6.73,8.02,6.72,8.16,6.71,8.37,6.73,8.40,6.71,8.41,6.68,8.64,6.72,8.75,6.74,8.72,6.71,8.87,6.69,8.80,6.685,8.91,6.725,9.03,6.68,8.03,6.65,8.20,6.655,8.26,6.64,9.22,6.66,8.49,6.63,8.60,6.65,8.71,6.65,8.73,6.645,8.56,6.63,8.83,6.64,9.06,6.64,9.22,6.63,9.11,6.615,9.18,6.61];
const orangeEastLow=[8.39,6.595,8.52,6.595,8.57,6.59,8.78,6.585,8.845,6.61,8.91,6.62,9.0,6.585,8.39,6.56,8.45,6.56,8.98,6.565,9.14,6.575,9.20,6.58,8.885,6.55,8.14,6.52,8.60,6.50,8.67,6.515,8.76,6.53,8.49,6.515,8.71,6.525,8.85,6.515,9.07,6.515,9.22,6.50,8.61,6.475,8.56,6.47,8.65,6.465,8.41,6.48,8.35,6.46,8.45,6.445,8.505,6.435,8.63,6.43,8.925,6.495,8.845,6.465,8.90,6.465,9.11,6.48,9.22,6.47,8.83,6.43,9.02,6.445,9.22,6.43,8.20,6.41,8.75,6.415,8.55,6.405,8.935,6.415,9.085,6.405,9.15,6.41,8.71,6.39,8.76,6.375,8.54,6.375,8.82,6.37,8.99,6.38,9.19,6.365,8.445,6.35,8.87,6.34,8.90,6.335,9.06,6.33,9.11,6.335,9.19,6.32,8.465,6.31,8.635,6.295,8.69,6.305,8.855,6.305,8.95,6.305,9.02,6.305,9.07,6.30,9.11,6.28,9.18,6.285,9.30,6.30,8.27,6.275,8.415,6.26,8.53,6.25,8.70,6.25,9.02,6.27,8.87,6.255,8.94,6.25,9.29,6.245,9.21,6.20,9.235,6.23,8.61,6.24,8.465,6.22,8.80,6.23,9.09,6.235,8.94,6.205,8.60,6.20,8.76,6.20,9.06,6.205,8.49,6.18,8.745,6.165,8.77,6.15,8.90,6.145,9.0,6.165,9.07,6.17,9.26,6.18,8.585,6.14,8.60,6.12,8.68,6.125,8.76,6.125,8.90,6.13,9.06,6.135,9.155,6.115,9.29,6.13,9.22,6.115,9.02,6.08,8.83,6.065,8.92,6.06,9.06,6.07,9.22,6.09,8.67,6.035,8.72,6.035,8.88,6.04,9.07,6.03,9.18,6.05,9.17,6.02,9.195,6.0,8.80,6.0,8.855,5.99,8.91,5.995,8.775,5.975,8.91,5.97,9.10,6.0,9.10,5.965,8.815,5.945,9.13,5.955,8.65,5.93,8.39,5.93,9.34,5.93,9.43,5.95,8.71,5.89,8.84,5.895,8.68,5.865,8.95,5.895,9.06,5.875,9.23,5.865,9.27,5.89,8.875,5.85,8.97,5.85,9.06,5.855,9.18,5.845,9.37,5.865,9.32,5.845];
const orangeDenseRidges=[4.94,9.85,4.88,9.84,4.84,9.82,4.80,9.80,4.76,9.79,4.95,9.80,5.0,9.80,5.02,9.76,4.96,9.76,4.92,9.78,5.05,9.70,5.10,9.74,5.13,9.72,5.12,9.69,5.18,9.70,5.25,9.70,5.27,9.67,5.24,9.74,5.20,9.66,5.28,9.63,5.32,9.60,5.34,9.59,5.27,9.58,5.33,9.56,5.36,9.50,5.42,9.50,5.45,9.48,5.38,9.47,5.60,9.21,5.66,9.24,5.70,9.22,5.75,9.27,5.80,9.24,5.85,9.26,5.90,9.29,5.93,9.25,5.96,9.27,5.90,9.22,5.94,9.18,6.0,9.21,6.04,9.17,5.98,9.14,6.06,9.14,6.08,9.12,6.02,9.07,6.06,9.07,6.10,9.02,6.04,9.0,6.08,8.97,6.12,8.95,6.00,8.85,6.04,8.85,6.08,8.83,6.02,8.78,6.05,8.75,6.08,8.72,6.14,8.71,5.60,8.57,5.64,8.53,5.68,8.52,5.72,8.50,5.76,8.47,5.68,8.46,5.72,8.44,5.62,8.49,5.78,8.52,6.05,8.42,6.09,8.39,6.12,8.35,6.13,8.30,6.07,8.26,6.11,8.18,6.04,8.20,9.02,8.38,9.06,8.36,9.03,8.33,9.09,8.34,9.14,8.37,9.12,8.31,9.15,8.28,9.08,8.26,9.16,8.24,9.20,8.22,9.19,8.17,9.14,8.15,9.17,8.12,9.22,8.10,9.05,8.42,8.96,8.41,8.98,8.44,9.12,8.47,9.17,8.41,9.19,8.38,9.24,8.45,8.88,9.0,8.92,8.98,8.95,8.93,8.99,8.90,9.05,8.85,9.07,8.83,9.10,8.78,9.13,8.77,9.15,8.72,9.12,8.70,7.70,9.12,7.73,9.10,7.76,9.06,7.82,9.08,7.86,9.05,7.88,9.10,7.92,9.13,7.18,9.16,7.20,9.12,7.24,9.13,7.26,9.09,7.23,9.03,7.18,9.02,7.29,9.03,7.33,9.05,7.68,8.34,7.72,8.35,7.75,8.33,7.74,8.30,7.78,8.27,7.75,8.24,7.82,8.30,7.55,8.41,7.48,8.36,7.44,8.41,7.39,8.40,7.84,8.28,6.82,7.68,6.86,7.66,6.90,7.64,6.93,7.66,6.96,7.65,6.88,7.60,6.94,7.60,7.0,7.60,7.05,7.62,6.80,7.60,6.84,7.56,6.90,7.56,6.96,7.57,6.88,7.52,6.82,7.50,6.92,7.48,6.85,7.46,6.60,7.71,6.63,7.68,6.67,7.67,6.56,7.68,6.75,7.73,6.72,7.68,7.65,7.60,7.68,7.55,7.72,7.53,7.66,7.48,7.70,7.46,7.74,7.44,7.78,7.48,7.84,7.46,7.72,7.41,7.80,7.42,7.85,7.39,7.88,7.36,7.82,7.34,7.76,7.33,7.70,7.31,7.66,7.29,7.72,7.24,7.68,7.27,7.62,7.27,7.66,7.23,7.70,7.22,7.74,7.20,7.76,7.27,7.80,7.26,7.64,7.19,7.82,7.21,8.18,7.30,8.21,7.27,8.26,7.26,8.30,7.25,8.28,7.30,8.33,7.28,8.26,7.20,8.32,7.23,8.50,7.03,8.54,7.00,8.58,6.97,8.62,6.93,8.55,6.96,8.60,6.90,8.66,6.87,8.72,6.86,8.50,6.88,8.48,6.84,8.40,6.62,8.44,6.58,8.47,6.52,8.52,6.49,8.55,6.53,8.60,6.44,8.58,6.38,8.64,6.36,8.68,6.33,8.72,6.36,8.80,6.34,8.76,6.29,8.84,6.27,8.88,6.22,8.92,6.27,8.97,6.23,9.03,6.20,9.0,6.30,9.04,6.25,9.08,6.18,9.14,6.22,9.18,6.16,9.12,6.14,9.16,6.10,9.02,6.12,8.96,6.10,8.86,6.10,8.82,6.14,8.70,6.18,8.66,6.22,8.60,6.27,8.50,6.30,8.52,6.20,8.44,6.28,8.38,6.40,8.42,6.43,8.45,6.48,8.62,6.40,8.70,6.44,8.75,6.48,8.82,6.50,8.90,6.52,8.96,6.48,9.02,6.48,9.05,6.42,9.12,6.44,9.16,6.38,9.20,6.42,9.25,6.36,9.27,6.30,9.25,6.22,9.28,6.16,9.26,6.08,9.30,6.05,9.24,6.03,9.20,5.98,9.16,5.93,9.18,5.88,9.25,5.90,9.28,5.94,9.25,5.82,9.28,5.78,9.22,5.73,9.29,5.72,9.36,5.72,9.38,5.66,9.34,5.66,9.28,5.64,9.30,5.60,9.36,5.60,9.42,5.62,9.46,5.58,9.42,5.54,9.36,5.54,9.30,5.54,9.35,5.50,9.40,5.48,9.44,5.45,9.38,5.44,9.34,5.46,9.30,5.47,9.28,5.42,9.33,5.40,9.38,5.40,9.36,5.34,9.31,5.33,9.27,5.33,9.30,5.28,9.36,5.27,9.34,5.24,9.30,5.24,9.25,5.30,9.23,5.28,9.20,5.25,9.24,5.21,9.22,5.15,9.24,5.12,9.19,5.10,9.17,5.06,9.20,5.02,9.16,4.98,9.18,4.93,9.15,4.90,9.17,4.86,9.14,4.82];
const toPairs=a=>{const r=[];for(let i=0;i<a.length;i+=2)r.push([a[i],a[i+1]]);return r;};
const encoderPoints=toPairs([].concat(blueArmTop,blueArmMid,blueArmLow,blueFarLeft,blueArmBottom,blueNorthCentre,blueCentreA,blueCentreB,blueCentreC,blueCentreD,blueSouthLobe,blueMidSouth,blueSouthEast,blueEastHidden,blueDenseCores));
const centroidPoints=toPairs([].concat(orangeStray,orangeSouthBand,orangeNorthArch,orangeNorthEastA,orangeNorthEastB,orangeNorthCentre,orangeEastUpper,orangeEastMid,orangeEastLow,orangeDenseRidges));
const font='"DejaVu Sans"';
const xSym='path://M1 0L2 1L3 0L4 1L3 2L4 3L3 4L2 3L1 4L0 3L1 2L0 1Z';
const chart=echarts.init(document.getElementById('c'),null,{renderer:'canvas'});
chart.setOption({animation:false,backgroundColor:'#fff',
 title:{text:'UMAP 2D Projection',left:1882.6,top:27,textAlign:'center',padding:0,textStyle:{fontFamily:font,fontWeight:'normal',fontSize:62.5,color:'#000'}},
 legend:{left:2356,top:142,orient:'vertical',padding:[34,41,29,101],itemGap:44,itemWidth:154,itemHeight:25,backgroundColor:'#fff',borderColor:'#ccc',borderWidth:3,borderRadius:14,
  textStyle:{fontFamily:font,fontSize:83,color:'#000',padding:[0,0,0,70]},data:['Encoder embedding','Centroids (stage 0)']},
 grid:{left:226.5,top:101.8,width:3312.2,height:3248.2,show:true,outerBoundsMode:'none',borderColor:'#000',borderWidth:3,backgroundColor:'transparent'},
 xAxis:{type:'value',min:-1.713,max:9.981,name:'UMAP-1',nameLocation:'middle',nameGap:86,nameMoveOverlap:false,nameTextStyle:{fontFamily:font,fontSize:100,color:'#000'},splitLine:{show:false},axisLine:{show:false,onZero:false},
  axisTick:{show:true,length:15,customValues:xTicks,lineStyle:{color:'#000',width:3}},axisLabel:{customValues:xTicks,margin:26,fontFamily:font,fontSize:41.7,color:'#000',hideOverlap:false,showMinLabel:true,showMaxLabel:true}},
 yAxis:{type:'value',min:4.045,max:10.151,name:'UMAP-2',nameLocation:'middle',nameGap:85,nameMoveOverlap:false,nameTextStyle:{fontFamily:font,fontSize:100,color:'#000'},splitLine:{show:false},axisLine:{show:false,onZero:false},
  axisTick:{show:true,length:15,customValues:yTicks,lineStyle:{color:'#000',width:3}},axisLabel:{customValues:yTicks,margin:30,fontFamily:font,fontSize:41.7,color:'#000',hideOverlap:false,showMinLabel:true,showMaxLabel:true}},
 series:[
  {type:'scatter',name:'Encoder embedding',data:encoderPoints,symbol:'circle',symbolSize:23,large:false,progressive:0,silent:true,itemStyle:{color:'#1f77b4',borderColor:'#1f77b4',borderWidth:3,opacity:.35},z:2},
  {type:'scatter',name:'Centroids (stage 0)',data:centroidPoints,symbol:xSym,symbolSize:21,large:false,progressive:0,silent:true,itemStyle:{color:'#ff7f0e',borderColor:'#000',borderWidth:3,opacity:1},z:3}
 ]});
</script></body></html>
